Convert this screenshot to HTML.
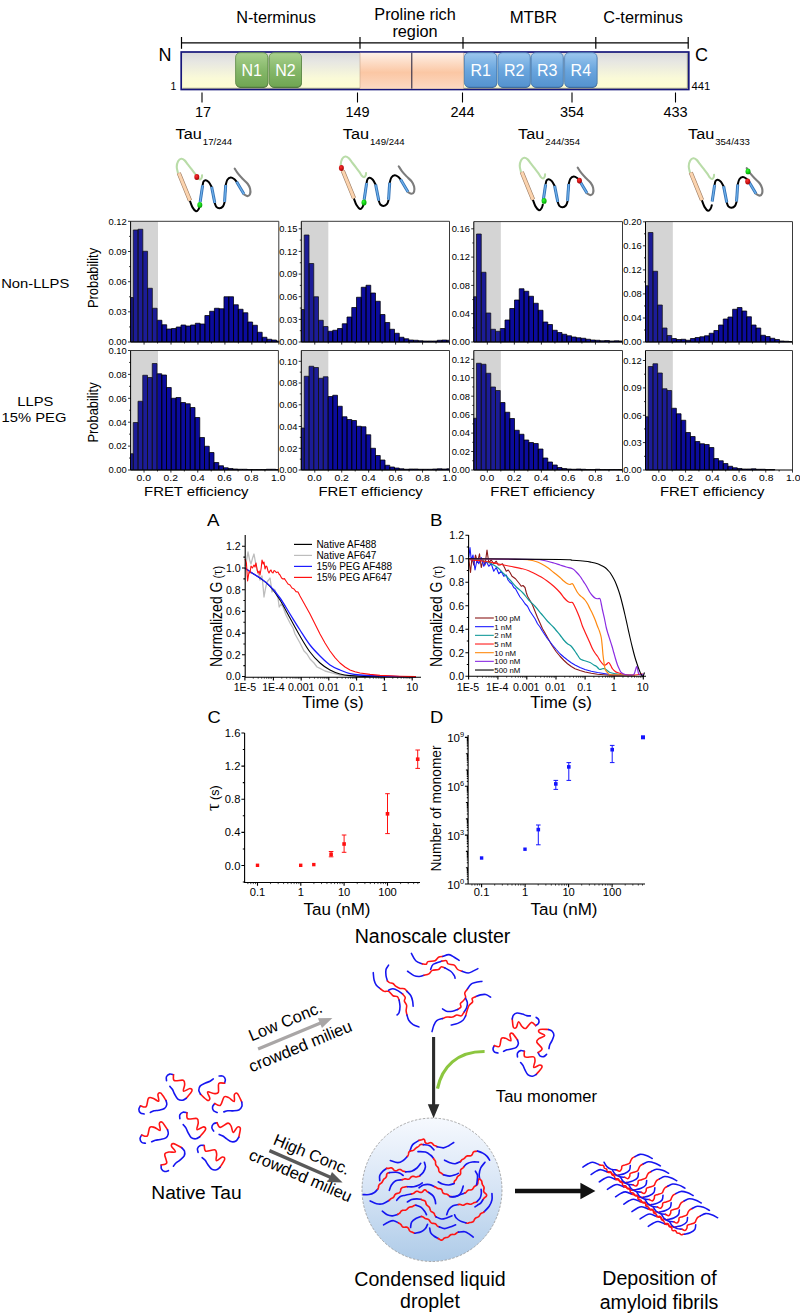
<!DOCTYPE html>
<html><head><meta charset="utf-8"><title>Figure</title>
<style>
html,body{margin:0;padding:0;background:#fff;}
body{width:800px;height:1315px;overflow:hidden;font-family:"Liberation Sans", sans-serif;}
svg{display:block;font-family:"Liberation Sans", sans-serif;}
</style></head><body>
<svg width="800" height="1315" viewBox="0 0 800 1315">
<rect width="800" height="1315" fill="#fff"/>
<defs>
<linearGradient id="gBar" x1="0" y1="0" x2="0" y2="1">
<stop offset="0" stop-color="#d9d9d9"/><stop offset="0.25" stop-color="#e6e6e2"/><stop offset="0.7" stop-color="#fafad8"/><stop offset="1" stop-color="#fdfdd0"/>
</linearGradient>
<linearGradient id="gPro" x1="0" y1="0" x2="0" y2="1">
<stop offset="0" stop-color="#fef0e6"/><stop offset="0.55" stop-color="#fbc7a4"/><stop offset="1" stop-color="#fcd9c2"/>
</linearGradient>
<linearGradient id="gN" x1="0" y1="0" x2="0" y2="1">
<stop offset="0" stop-color="#a9d18e"/><stop offset="0.5" stop-color="#86b86a"/><stop offset="1" stop-color="#6fa552"/>
</linearGradient>
<linearGradient id="gR" x1="0" y1="0" x2="0" y2="1">
<stop offset="0" stop-color="#9cc7ee"/><stop offset="0.5" stop-color="#6aa6de"/><stop offset="1" stop-color="#5492cf"/>
</linearGradient>
<radialGradient id="gRed" cx="0.4" cy="0.35" r="0.7"><stop offset="0" stop-color="#ff3030"/><stop offset="1" stop-color="#a00000"/></radialGradient>
<radialGradient id="gGrn" cx="0.4" cy="0.35" r="0.7"><stop offset="0" stop-color="#30ff30"/><stop offset="1" stop-color="#009a00"/></radialGradient>
</defs>
<text transform="translate(276 23)" font-size="16.3" text-anchor="middle" fill="#000">N-terminus</text>
<text transform="translate(415 20)" font-size="16.3" text-anchor="middle" fill="#000">Proline rich</text>
<text transform="translate(415 37.4)" font-size="16.3" text-anchor="middle" fill="#000">region</text>
<text transform="translate(533.4 23)" font-size="16.8" text-anchor="middle" fill="#000">MTBR</text>
<text transform="translate(643 23)" font-size="16.3" text-anchor="middle" fill="#000">C-terminus</text>
<path d="M181.5 42.8H688.2" stroke="#000" stroke-width="1.2" fill="none"/>
<path d="M181.5 37V48.8" stroke="#000" stroke-width="1.2"/>
<path d="M360 37V48.8" stroke="#000" stroke-width="1.2"/>
<path d="M463 37V48.8" stroke="#000" stroke-width="1.2"/>
<path d="M595.8 37V48.8" stroke="#000" stroke-width="1.2"/>
<path d="M688.2 37V48.8" stroke="#000" stroke-width="1.2"/>
<rect x="181.2" y="52" width="507.6" height="37.5" fill="url(#gBar)" stroke="#16167a" stroke-width="1.7"/>
<path d="M182.5 88.3H687.4V53.2" stroke="#6e6e6e" stroke-width="0.9" fill="none" opacity="0.8"/>
<rect x="360" y="52.8" width="103.5" height="35.9" fill="url(#gPro)"/>
<path d="M411.8 52.8V88.7" stroke="#1a1a3a" stroke-width="1"/>
<path d="M360 52.8V88.7M463.6 52.8V88.7" stroke="#c8a58c" stroke-width="0.6"/>
<rect x="235.9" y="53.6" width="32.3" height="34.3" rx="4.5" fill="#4c6e3a"/>
<rect x="235.6" y="52.7" width="32.3" height="34.3" rx="4.5" fill="url(#gN)" stroke="#5e8a48" stroke-width="0.8"/>
<text transform="translate(251.75 76)" font-size="16" text-anchor="middle" fill="#fff">N1</text>
<rect x="269.5" y="53.6" width="32.3" height="34.3" rx="4.5" fill="#4c6e3a"/>
<rect x="269.2" y="52.7" width="32.3" height="34.3" rx="4.5" fill="url(#gN)" stroke="#5e8a48" stroke-width="0.8"/>
<text transform="translate(285.35 76)" font-size="16" text-anchor="middle" fill="#fff">N2</text>
<rect x="464.7" y="53.6" width="32.4" height="34.3" rx="4.5" fill="#3b638f"/>
<rect x="464.4" y="52.7" width="32.4" height="34.3" rx="4.5" fill="url(#gR)" stroke="#4a7db5" stroke-width="0.8"/>
<text transform="translate(480.6 76)" font-size="16" text-anchor="middle" fill="#fff">R1</text>
<rect x="498.3" y="53.6" width="32.2" height="34.3" rx="4.5" fill="#3b638f"/>
<rect x="498" y="52.7" width="32.2" height="34.3" rx="4.5" fill="url(#gR)" stroke="#4a7db5" stroke-width="0.8"/>
<text transform="translate(514.1 76)" font-size="16" text-anchor="middle" fill="#fff">R2</text>
<rect x="531.5" y="53.6" width="32" height="34.3" rx="4.5" fill="#3b638f"/>
<rect x="531.2" y="52.7" width="32" height="34.3" rx="4.5" fill="url(#gR)" stroke="#4a7db5" stroke-width="0.8"/>
<text transform="translate(547.2 76)" font-size="16" text-anchor="middle" fill="#fff">R3</text>
<rect x="564.9" y="53.6" width="32.4" height="34.3" rx="4.5" fill="#3b638f"/>
<rect x="564.6" y="52.7" width="32.4" height="34.3" rx="4.5" fill="url(#gR)" stroke="#4a7db5" stroke-width="0.8"/>
<text transform="translate(580.8 76)" font-size="16" text-anchor="middle" fill="#fff">R4</text>
<text transform="translate(158.5 61.3)" font-size="18" text-anchor="start" fill="#000">N</text>
<text transform="translate(695 61.3)" font-size="18" text-anchor="start" fill="#000">C</text>
<text transform="translate(170.5 90)" font-size="10.5" text-anchor="start" fill="#000">1</text>
<text transform="translate(691.5 90.4)" font-size="11.3" text-anchor="start" fill="#000">441</text>
<path d="M202 92.5V102.5" stroke="#000" stroke-width="1.1"/>
<text transform="translate(203 116.8)" font-size="14.5" text-anchor="middle" fill="#000">17</text>
<path d="M357.5 92.5V102.5" stroke="#000" stroke-width="1.1"/>
<text transform="translate(357.5 116.8)" font-size="14.5" text-anchor="middle" fill="#000">149</text>
<path d="M462.5 92.5V102.5" stroke="#000" stroke-width="1.1"/>
<text transform="translate(462.5 116.8)" font-size="14.5" text-anchor="middle" fill="#000">244</text>
<path d="M572 92.5V102.5" stroke="#000" stroke-width="1.1"/>
<text transform="translate(572 116.8)" font-size="14.5" text-anchor="middle" fill="#000">354</text>
<path d="M675.5 92.5V102.5" stroke="#000" stroke-width="1.1"/>
<text transform="translate(675.5 116.8)" font-size="14.5" text-anchor="middle" fill="#000">433</text>
<text transform="translate(175.6 139.3) scale(1.1 1)" font-size="14.8" text-anchor="start" fill="#000">Tau</text>
<text transform="translate(202.8 144.5) scale(0.98 1)" font-size="9.8" text-anchor="start" fill="#000">17/244</text>
<text transform="translate(342.8 139.3) scale(1.1 1)" font-size="14.8" text-anchor="start" fill="#000">Tau</text>
<text transform="translate(370 144.5) scale(0.98 1)" font-size="9.8" text-anchor="start" fill="#000">149/244</text>
<text transform="translate(518.1 139.3) scale(1.1 1)" font-size="14.8" text-anchor="start" fill="#000">Tau</text>
<text transform="translate(545.3 144.5) scale(0.98 1)" font-size="9.8" text-anchor="start" fill="#000">244/354</text>
<text transform="translate(688 139.3) scale(1.1 1)" font-size="14.8" text-anchor="start" fill="#000">Tau</text>
<text transform="translate(715.2 144.5) scale(0.98 1)" font-size="9.8" text-anchor="start" fill="#000">354/433</text>
<g transform="translate(0 0)"><path d="M177.88 172.5C177.69 171.56 176.71 168.75 176.75 166.88C176.79 165 177.35 162.6 178.1 161.25C178.85 159.9 180.16 158.93 181.25 158.78C182.34 158.62 183.5 159.38 184.62 160.35C185.75 161.32 186.78 163.07 188 164.62C189.22 166.18 190.72 168.09 191.94 169.69C193.16 171.28 194.32 172.78 195.31 174.19C196.31 175.59 197.09 177.24 197.9 178.12C198.71 179.01 199.51 179.57 200.15 179.47C200.79 179.38 201.41 178.26 201.72 177.56C202.04 176.87 202.01 175.69 202.06 175.31" fill="none" stroke="#b9dca8" stroke-width="2.1" stroke-linecap="round"/><path d="M190.03 201.19C190.44 202.22 191.49 205.69 192.5 207.38C193.51 209.06 195.07 211.03 196.1 211.31C197.13 211.59 198.07 210 198.69 209.06C199.31 208.12 199.62 206.25 199.81 205.69" fill="none" stroke="#000" stroke-width="2" stroke-linecap="round"/><path d="M202.62 185.1C202.78 184.5 203 182.32 203.53 181.5C204.05 180.68 204.89 180.06 205.78 180.15C206.66 180.24 207.84 180.94 208.81 182.06C209.79 183.19 211.16 186.09 211.62 186.9" fill="none" stroke="#000" stroke-width="2" stroke-linecap="round"/><path d="M214.78 203.1C215.04 203.72 215.56 205.95 216.35 206.81C217.14 207.68 218.38 208.37 219.5 208.28C220.62 208.18 222.26 207.24 223.1 206.25C223.94 205.26 224.32 202.97 224.56 202.31" fill="none" stroke="#000" stroke-width="2" stroke-linecap="round"/><path d="M225.69 185.1C225.97 184.22 226.53 181.07 227.38 179.81C228.22 178.56 229.62 177.69 230.75 177.56C231.88 177.43 233.15 178.33 234.12 179.03C235.1 179.72 236.19 181.28 236.6 181.72" fill="none" stroke="#000" stroke-width="2" stroke-linecap="round"/><path d="M243.69 194.1C244.34 194.44 246.56 196.16 247.62 196.12C248.69 196.09 249.69 195.09 250.1 193.88C250.51 192.66 250.51 190.5 250.1 188.81C249.69 187.12 248.88 185.44 247.62 183.75C246.37 182.06 244.16 180.38 242.56 178.69C240.97 177 239.38 175.31 238.06 173.62C236.75 171.94 235.25 169.41 234.69 168.56" fill="none" stroke="#7c7c7c" stroke-width="2.1" stroke-linecap="round"/><path d="M178.78 173.06L190.03 200.62" stroke="#9b7a60" stroke-width="4.2" fill="none"/><path d="M178.78 173.06L190.03 200.62" stroke="#fbd3ae" stroke-width="3" fill="none"/><path d="M200.15 201.97L202.62 185.44" stroke="#2f6fb5" stroke-width="3" fill="none"/><path d="M200.15 201.97L202.62 185.44" stroke="#6fb0ea" stroke-width="1.3" fill="none"/><path d="M211.62 186.9L214.78 202.88" stroke="#2f6fb5" stroke-width="3" fill="none"/><path d="M211.62 186.9L214.78 202.88" stroke="#6fb0ea" stroke-width="1.3" fill="none"/><path d="M224.56 201.97L225.69 185.1" stroke="#2f6fb5" stroke-width="3" fill="none"/><path d="M224.56 201.97L225.69 185.1" stroke="#6fb0ea" stroke-width="1.3" fill="none"/><path d="M236.6 181.72L243.91 194.1" stroke="#2f6fb5" stroke-width="3" fill="none"/><path d="M236.6 181.72L243.91 194.1" stroke="#6fb0ea" stroke-width="1.3" fill="none"/></g>
<g transform="translate(164 -2.3)"><path d="M177.88 172.5C177.69 171.56 176.71 168.75 176.75 166.88C176.79 165 177.35 162.6 178.1 161.25C178.85 159.9 180.16 158.93 181.25 158.78C182.34 158.62 183.5 159.38 184.62 160.35C185.75 161.32 186.78 163.07 188 164.62C189.22 166.18 190.72 168.09 191.94 169.69C193.16 171.28 194.32 172.78 195.31 174.19C196.31 175.59 197.09 177.24 197.9 178.12C198.71 179.01 199.51 179.57 200.15 179.47C200.79 179.38 201.41 178.26 201.72 177.56C202.04 176.87 202.01 175.69 202.06 175.31" fill="none" stroke="#b9dca8" stroke-width="2.1" stroke-linecap="round"/><path d="M190.03 201.19C190.44 202.22 191.49 205.69 192.5 207.38C193.51 209.06 195.07 211.03 196.1 211.31C197.13 211.59 198.07 210 198.69 209.06C199.31 208.12 199.62 206.25 199.81 205.69" fill="none" stroke="#000" stroke-width="2" stroke-linecap="round"/><path d="M202.62 185.1C202.78 184.5 203 182.32 203.53 181.5C204.05 180.68 204.89 180.06 205.78 180.15C206.66 180.24 207.84 180.94 208.81 182.06C209.79 183.19 211.16 186.09 211.62 186.9" fill="none" stroke="#000" stroke-width="2" stroke-linecap="round"/><path d="M214.78 203.1C215.04 203.72 215.56 205.95 216.35 206.81C217.14 207.68 218.38 208.37 219.5 208.28C220.62 208.18 222.26 207.24 223.1 206.25C223.94 205.26 224.32 202.97 224.56 202.31" fill="none" stroke="#000" stroke-width="2" stroke-linecap="round"/><path d="M225.69 185.1C225.97 184.22 226.53 181.07 227.38 179.81C228.22 178.56 229.62 177.69 230.75 177.56C231.88 177.43 233.15 178.33 234.12 179.03C235.1 179.72 236.19 181.28 236.6 181.72" fill="none" stroke="#000" stroke-width="2" stroke-linecap="round"/><path d="M243.69 194.1C244.34 194.44 246.56 196.16 247.62 196.12C248.69 196.09 249.69 195.09 250.1 193.88C250.51 192.66 250.51 190.5 250.1 188.81C249.69 187.12 248.88 185.44 247.62 183.75C246.37 182.06 244.16 180.38 242.56 178.69C240.97 177 239.38 175.31 238.06 173.62C236.75 171.94 235.25 169.41 234.69 168.56" fill="none" stroke="#7c7c7c" stroke-width="2.1" stroke-linecap="round"/><path d="M178.78 173.06L190.03 200.62" stroke="#9b7a60" stroke-width="4.2" fill="none"/><path d="M178.78 173.06L190.03 200.62" stroke="#fbd3ae" stroke-width="3" fill="none"/><path d="M200.15 201.97L202.62 185.44" stroke="#2f6fb5" stroke-width="3" fill="none"/><path d="M200.15 201.97L202.62 185.44" stroke="#6fb0ea" stroke-width="1.3" fill="none"/><path d="M211.62 186.9L214.78 202.88" stroke="#2f6fb5" stroke-width="3" fill="none"/><path d="M211.62 186.9L214.78 202.88" stroke="#6fb0ea" stroke-width="1.3" fill="none"/><path d="M224.56 201.97L225.69 185.1" stroke="#2f6fb5" stroke-width="3" fill="none"/><path d="M224.56 201.97L225.69 185.1" stroke="#6fb0ea" stroke-width="1.3" fill="none"/><path d="M236.6 181.72L243.91 194.1" stroke="#2f6fb5" stroke-width="3" fill="none"/><path d="M236.6 181.72L243.91 194.1" stroke="#6fb0ea" stroke-width="1.3" fill="none"/></g>
<g transform="translate(343 -1)"><path d="M177.88 172.5C177.69 171.56 176.71 168.75 176.75 166.88C176.79 165 177.35 162.6 178.1 161.25C178.85 159.9 180.16 158.93 181.25 158.78C182.34 158.62 183.5 159.38 184.62 160.35C185.75 161.32 186.78 163.07 188 164.62C189.22 166.18 190.72 168.09 191.94 169.69C193.16 171.28 194.32 172.78 195.31 174.19C196.31 175.59 197.09 177.24 197.9 178.12C198.71 179.01 199.51 179.57 200.15 179.47C200.79 179.38 201.41 178.26 201.72 177.56C202.04 176.87 202.01 175.69 202.06 175.31" fill="none" stroke="#b9dca8" stroke-width="2.1" stroke-linecap="round"/><path d="M190.03 201.19C190.44 202.22 191.49 205.69 192.5 207.38C193.51 209.06 195.07 211.03 196.1 211.31C197.13 211.59 198.07 210 198.69 209.06C199.31 208.12 199.62 206.25 199.81 205.69" fill="none" stroke="#000" stroke-width="2" stroke-linecap="round"/><path d="M202.62 185.1C202.78 184.5 203 182.32 203.53 181.5C204.05 180.68 204.89 180.06 205.78 180.15C206.66 180.24 207.84 180.94 208.81 182.06C209.79 183.19 211.16 186.09 211.62 186.9" fill="none" stroke="#000" stroke-width="2" stroke-linecap="round"/><path d="M214.78 203.1C215.04 203.72 215.56 205.95 216.35 206.81C217.14 207.68 218.38 208.37 219.5 208.28C220.62 208.18 222.26 207.24 223.1 206.25C223.94 205.26 224.32 202.97 224.56 202.31" fill="none" stroke="#000" stroke-width="2" stroke-linecap="round"/><path d="M225.69 185.1C225.97 184.22 226.53 181.07 227.38 179.81C228.22 178.56 229.62 177.69 230.75 177.56C231.88 177.43 233.15 178.33 234.12 179.03C235.1 179.72 236.19 181.28 236.6 181.72" fill="none" stroke="#000" stroke-width="2" stroke-linecap="round"/><path d="M243.69 194.1C244.34 194.44 246.56 196.16 247.62 196.12C248.69 196.09 249.69 195.09 250.1 193.88C250.51 192.66 250.51 190.5 250.1 188.81C249.69 187.12 248.88 185.44 247.62 183.75C246.37 182.06 244.16 180.38 242.56 178.69C240.97 177 239.38 175.31 238.06 173.62C236.75 171.94 235.25 169.41 234.69 168.56" fill="none" stroke="#7c7c7c" stroke-width="2.1" stroke-linecap="round"/><path d="M178.78 173.06L190.03 200.62" stroke="#9b7a60" stroke-width="4.2" fill="none"/><path d="M178.78 173.06L190.03 200.62" stroke="#fbd3ae" stroke-width="3" fill="none"/><path d="M200.15 201.97L202.62 185.44" stroke="#2f6fb5" stroke-width="3" fill="none"/><path d="M200.15 201.97L202.62 185.44" stroke="#6fb0ea" stroke-width="1.3" fill="none"/><path d="M211.62 186.9L214.78 202.88" stroke="#2f6fb5" stroke-width="3" fill="none"/><path d="M211.62 186.9L214.78 202.88" stroke="#6fb0ea" stroke-width="1.3" fill="none"/><path d="M224.56 201.97L225.69 185.1" stroke="#2f6fb5" stroke-width="3" fill="none"/><path d="M224.56 201.97L225.69 185.1" stroke="#6fb0ea" stroke-width="1.3" fill="none"/><path d="M236.6 181.72L243.91 194.1" stroke="#2f6fb5" stroke-width="3" fill="none"/><path d="M236.6 181.72L243.91 194.1" stroke="#6fb0ea" stroke-width="1.3" fill="none"/></g>
<g transform="translate(512 -0.5)"><path d="M177.88 172.5C177.69 171.56 176.71 168.75 176.75 166.88C176.79 165 177.35 162.6 178.1 161.25C178.85 159.9 180.16 158.93 181.25 158.78C182.34 158.62 183.5 159.38 184.62 160.35C185.75 161.32 186.78 163.07 188 164.62C189.22 166.18 190.72 168.09 191.94 169.69C193.16 171.28 194.32 172.78 195.31 174.19C196.31 175.59 197.09 177.24 197.9 178.12C198.71 179.01 199.51 179.57 200.15 179.47C200.79 179.38 201.41 178.26 201.72 177.56C202.04 176.87 202.01 175.69 202.06 175.31" fill="none" stroke="#b9dca8" stroke-width="2.1" stroke-linecap="round"/><path d="M190.03 201.19C190.44 202.22 191.49 205.69 192.5 207.38C193.51 209.06 195.07 211.03 196.1 211.31C197.13 211.59 198.07 210 198.69 209.06C199.31 208.12 199.62 206.25 199.81 205.69" fill="none" stroke="#000" stroke-width="2" stroke-linecap="round"/><path d="M202.62 185.1C202.78 184.5 203 182.32 203.53 181.5C204.05 180.68 204.89 180.06 205.78 180.15C206.66 180.24 207.84 180.94 208.81 182.06C209.79 183.19 211.16 186.09 211.62 186.9" fill="none" stroke="#000" stroke-width="2" stroke-linecap="round"/><path d="M214.78 203.1C215.04 203.72 215.56 205.95 216.35 206.81C217.14 207.68 218.38 208.37 219.5 208.28C220.62 208.18 222.26 207.24 223.1 206.25C223.94 205.26 224.32 202.97 224.56 202.31" fill="none" stroke="#000" stroke-width="2" stroke-linecap="round"/><path d="M225.69 185.1C225.97 184.22 226.53 181.07 227.38 179.81C228.22 178.56 229.62 177.69 230.75 177.56C231.88 177.43 233.15 178.33 234.12 179.03C235.1 179.72 236.19 181.28 236.6 181.72" fill="none" stroke="#000" stroke-width="2" stroke-linecap="round"/><path d="M243.69 194.1C244.34 194.44 246.56 196.16 247.62 196.12C248.69 196.09 249.69 195.09 250.1 193.88C250.51 192.66 250.51 190.5 250.1 188.81C249.69 187.12 248.88 185.44 247.62 183.75C246.37 182.06 244.16 180.38 242.56 178.69C240.97 177 239.38 175.31 238.06 173.62C236.75 171.94 235.25 169.41 234.69 168.56" fill="none" stroke="#7c7c7c" stroke-width="2.1" stroke-linecap="round"/><path d="M178.78 173.06L190.03 200.62" stroke="#9b7a60" stroke-width="4.2" fill="none"/><path d="M178.78 173.06L190.03 200.62" stroke="#fbd3ae" stroke-width="3" fill="none"/><path d="M200.15 201.97L202.62 185.44" stroke="#2f6fb5" stroke-width="3" fill="none"/><path d="M200.15 201.97L202.62 185.44" stroke="#6fb0ea" stroke-width="1.3" fill="none"/><path d="M211.62 186.9L214.78 202.88" stroke="#2f6fb5" stroke-width="3" fill="none"/><path d="M211.62 186.9L214.78 202.88" stroke="#6fb0ea" stroke-width="1.3" fill="none"/><path d="M224.56 201.97L225.69 185.1" stroke="#2f6fb5" stroke-width="3" fill="none"/><path d="M224.56 201.97L225.69 185.1" stroke="#6fb0ea" stroke-width="1.3" fill="none"/><path d="M236.6 181.72L243.91 194.1" stroke="#2f6fb5" stroke-width="3" fill="none"/><path d="M236.6 181.72L243.91 194.1" stroke="#6fb0ea" stroke-width="1.3" fill="none"/></g>
<ellipse cx="196.8" cy="177" rx="2.5" ry="2.9" fill="url(#gRed)"/>
<ellipse cx="199.8" cy="204.9" rx="2.5" ry="2.9" fill="url(#gGrn)"/>
<ellipse cx="341.4" cy="168" rx="2.5" ry="2.9" fill="url(#gRed)"/>
<ellipse cx="364" cy="202.5" rx="2.5" ry="2.9" fill="url(#gGrn)"/>
<ellipse cx="579.4" cy="180.6" rx="2.5" ry="2.9" fill="url(#gRed)"/>
<ellipse cx="544.1" cy="200.9" rx="2.5" ry="2.9" fill="url(#gGrn)"/>
<ellipse cx="747.7" cy="181.5" rx="2.5" ry="2.9" fill="url(#gRed)"/>
<ellipse cx="748" cy="171.4" rx="2.5" ry="2.9" fill="url(#gGrn)"/>
<rect x="130.6" y="221.3" width="27.4" height="120.7" fill="#e3e3e3"/>
<path d="M130.75 342V297.5H133.25V342ZM133.25 342V230H138.03V342ZM138.03 342V229.25H142.8V342ZM142.8 342V251.25H147.57V342ZM147.57 342V288.25H152.35V342ZM152.35 342V308.25H157.12V342ZM157.12 342V320.25H161.9V342ZM161.9 342V324.75H166.68V342ZM166.68 342V329H171.45V342ZM171.45 342V328.5H176.22V342ZM176.22 342V327H181V342ZM181 342V325H185.78V342ZM185.78 342V326H190.55V342ZM190.55 342V325H195.32V342ZM195.32 342V323.25H200.1V342ZM200.1 342V324H204.88V342ZM204.88 342V315.5H209.65V342ZM209.65 342V311.25H214.43V342ZM214.43 342V308.25H219.2V342ZM219.2 342V308.75H223.98V342ZM223.98 342V296.75H228.75V342ZM228.75 342V296.75H233.53V342ZM233.53 342V304.75H238.3V342ZM238.3 342V309.25H243.07V342ZM243.07 342V312.75H247.85V342ZM247.85 342V322H252.62V342ZM252.62 342V325.25H257.4V342ZM257.4 342V332.25H262.18V342ZM262.18 342V337.25H266.95V342ZM266.95 342V339.25H271.73V342ZM271.73 342V340H276.5V342ZM276.5 342V341H278.75V342Z" fill="#0b0b9c" stroke="#000" stroke-width="0.75" stroke-linejoin="miter"/>
<rect x="130.6" y="221.3" width="27.4" height="120.7" fill="#808080" opacity="0.15"/>
<path d="M130.6 221.3H278.8V342" fill="none" stroke="#3a3a3a" stroke-width="1"/>
<path d="M130.6 221.3V342H278.8" fill="none" stroke="#000" stroke-width="1"/>
<text transform="translate(126.7 224.6)" font-size="9.4" text-anchor="end" fill="#000">0.12</text>
<text transform="translate(126.7 254.8)" font-size="9.4" text-anchor="end" fill="#000">0.09</text>
<text transform="translate(126.7 285)" font-size="9.4" text-anchor="end" fill="#000">0.06</text>
<text transform="translate(126.7 315.1)" font-size="9.4" text-anchor="end" fill="#000">0.03</text>
<text transform="translate(126.7 345.3)" font-size="9.4" text-anchor="end" fill="#000">0.00</text>
<path d="M128 221.3H130.6M128 251.5H130.6M128 281.7H130.6M128 311.8H130.6M128 342H130.6M129.1 236.4H130.6M129.1 266.6H130.6M129.1 296.75H130.6M129.1 326.9H130.6M144.07 342V344.6M171.02 342V344.6M197.96 342V344.6M224.91 342V344.6M251.85 342V344.6M278.8 342V344.6M157.55 342V343.5M184.49 342V343.5M211.44 342V343.5M238.38 342V343.5M265.33 342V343.5" stroke="#000" stroke-width="0.8" fill="none"/>
<rect x="301.3" y="221.3" width="27" height="120.7" fill="#e3e3e3"/>
<path d="M301.25 342V309.5H304.25V342ZM304.25 342V235H309V342ZM309 342V263.5H313.75V342ZM313.75 342V296.75H318.5V342ZM318.5 342V320.25H323.25V342ZM323.25 342V326.5H328V342ZM328 342V331.25H332.75V342ZM332.75 342V330.25H337.5V342ZM337.5 342V328.5H342.25V342ZM342.25 342V323.75H347V342ZM347 342V317H351.75V342ZM351.75 342V307.5H356.5V342ZM356.5 342V297.25H361.25V342ZM361.25 342V287.25H366V342ZM366 342V285.25H370.75V342ZM370.75 342V293H375.5V342ZM375.5 342V301.25H380.25V342ZM380.25 342V314.5H385V342ZM385 342V322.5H389.75V342ZM389.75 342V329.25H394.5V342ZM394.5 342V333.25H399.25V342ZM399.25 342V337.25H404V342ZM404 342V338.75H408.75V342ZM408.75 342V340H413.5V342ZM413.5 342V340.25H418.25V342ZM418.25 342V340.75H423V342ZM423 342V341H427.75V342ZM427.75 342V341H432.5V342ZM432.5 342V341H437.25V342ZM437.25 342V340.25H442V342ZM442 342V340H446.75V342ZM446.75 342V340.25H449.5V342Z" fill="#0b0b9c" stroke="#000" stroke-width="0.75" stroke-linejoin="miter"/>
<rect x="301.3" y="221.3" width="27" height="120.7" fill="#808080" opacity="0.15"/>
<path d="M301.3 221.3H449.5V342" fill="none" stroke="#3a3a3a" stroke-width="1"/>
<path d="M301.3 221.3V342H449.5" fill="none" stroke="#000" stroke-width="1"/>
<text transform="translate(297.4 232.1)" font-size="9.4" text-anchor="end" fill="#000">0.15</text>
<text transform="translate(297.4 254.7)" font-size="9.4" text-anchor="end" fill="#000">0.12</text>
<text transform="translate(297.4 277.4)" font-size="9.4" text-anchor="end" fill="#000">0.09</text>
<text transform="translate(297.4 300)" font-size="9.4" text-anchor="end" fill="#000">0.06</text>
<text transform="translate(297.4 322.7)" font-size="9.4" text-anchor="end" fill="#000">0.03</text>
<text transform="translate(297.4 345.3)" font-size="9.4" text-anchor="end" fill="#000">0.00</text>
<path d="M298.7 228.8H301.3M298.7 251.4H301.3M298.7 274.1H301.3M298.7 296.7H301.3M298.7 319.4H301.3M298.7 342H301.3M299.8 240.1H301.3M299.8 262.75H301.3M299.8 285.4H301.3M299.8 308.05H301.3M299.8 330.7H301.3M314.77 342V344.6M341.72 342V344.6M368.66 342V344.6M395.61 342V344.6M422.55 342V344.6M449.5 342V344.6M328.25 342V343.5M355.19 342V343.5M382.14 342V343.5M409.08 342V343.5M436.03 342V343.5" stroke="#000" stroke-width="0.8" fill="none"/>
<rect x="473.8" y="221.6" width="27" height="120.4" fill="#e3e3e3"/>
<path d="M473.75 342V296.75H476.5V342ZM476.5 342V234H481.25V342ZM481.25 342V272.25H486V342ZM486 342V313H490.75V342ZM490.75 342V329.25H495.5V342ZM495.5 342V331.25H500.25V342ZM500.25 342V328.5H505V342ZM505 342V320H509.75V342ZM509.75 342V308.5H514.5V342ZM514.5 342V300H519.25V342ZM519.25 342V288.75H524V342ZM524 342V291.25H528.75V342ZM528.75 342V296.25H533.5V342ZM533.5 342V303.25H538.25V342ZM538.25 342V310.25H543V342ZM543 342V322H547.75V342ZM547.75 342V324.5H552.5V342ZM552.5 342V330.25H557.25V342ZM557.25 342V332.5H562V342ZM562 342V334.25H566.75V342ZM566.75 342V335.75H571.5V342ZM571.5 342V337H576.25V342ZM576.25 342V337.75H581V342ZM581 342V338.25H585.75V342ZM585.75 342V339.25H590.5V342ZM590.5 342V340H595.25V342ZM595.25 342V340.25H600V342ZM600 342V340.75H604.75V342ZM604.75 342V340.5H609.5V342ZM609.5 342V341H614.25V342ZM614.25 342V340.75H619V342ZM619 342V341H622.5V342Z" fill="#0b0b9c" stroke="#000" stroke-width="0.75" stroke-linejoin="miter"/>
<rect x="473.8" y="221.6" width="27" height="120.4" fill="#808080" opacity="0.15"/>
<path d="M473.8 221.6H622.5V342" fill="none" stroke="#3a3a3a" stroke-width="1"/>
<path d="M473.8 221.6V342H622.5" fill="none" stroke="#000" stroke-width="1"/>
<text transform="translate(469.9 232.1)" font-size="9.4" text-anchor="end" fill="#000">0.16</text>
<text transform="translate(469.9 260.4)" font-size="9.4" text-anchor="end" fill="#000">0.12</text>
<text transform="translate(469.9 288.7)" font-size="9.4" text-anchor="end" fill="#000">0.08</text>
<text transform="translate(469.9 317)" font-size="9.4" text-anchor="end" fill="#000">0.04</text>
<text transform="translate(469.9 345.3)" font-size="9.4" text-anchor="end" fill="#000">0.00</text>
<path d="M471.2 228.8H473.8M471.2 257.1H473.8M471.2 285.4H473.8M471.2 313.7H473.8M471.2 342H473.8M472.3 242.95H473.8M472.3 271.25H473.8M472.3 299.55H473.8M472.3 327.85H473.8M487.32 342V344.6M514.35 342V344.6M541.39 342V344.6M568.43 342V344.6M595.46 342V344.6M622.5 342V344.6M500.84 342V343.5M527.87 342V343.5M554.91 342V343.5M581.95 342V343.5M608.98 342V343.5" stroke="#000" stroke-width="0.8" fill="none"/>
<rect x="645.5" y="221.6" width="27.3" height="120.4" fill="#e3e3e3"/>
<path d="M645.5 342V285.75H648.25V342ZM648.25 342V232.5H652.94V342ZM652.94 342V271.25H657.62V342ZM657.62 342V305H662.31V342ZM662.31 342V328H667V342ZM667 342V335.5H671.69V342ZM671.69 342V338.5H676.38V342ZM676.38 342V339.5H681.06V342ZM681.06 342V339.25H685.75V342ZM685.75 342V340.25H690.44V342ZM690.44 342V338.5H695.12V342ZM695.12 342V337.5H699.81V342ZM699.81 342V336.75H704.5V342ZM704.5 342V335.75H709.19V342ZM709.19 342V333.25H713.88V342ZM713.88 342V330.5H718.56V342ZM718.56 342V325H723.25V342ZM723.25 342V319H727.94V342ZM727.94 342V317H732.62V342ZM732.62 342V309.25H737.31V342ZM737.31 342V307.5H742V342ZM742 342V311H746.69V342ZM746.69 342V316.75H751.38V342ZM751.38 342V325H756.06V342ZM756.06 342V328H760.75V342ZM760.75 342V335.25H765.44V342ZM765.44 342V336.5H770.12V342ZM770.12 342V338.25H774.81V342ZM774.81 342V339.5H779.5V342ZM779.5 342V341H784.19V342ZM784.19 342V341.25H788.88V342ZM788.88 342V341.5H792.5V342Z" fill="#0b0b9c" stroke="#000" stroke-width="0.75" stroke-linejoin="miter"/>
<rect x="645.5" y="221.6" width="27.3" height="120.4" fill="#808080" opacity="0.15"/>
<path d="M645.5 221.6H792.5V342" fill="none" stroke="#3a3a3a" stroke-width="1"/>
<path d="M645.5 221.6V342H792.5" fill="none" stroke="#000" stroke-width="1"/>
<text transform="translate(641.6 225.1)" font-size="9.4" text-anchor="end" fill="#000">0.20</text>
<text transform="translate(641.6 249.1)" font-size="9.4" text-anchor="end" fill="#000">0.16</text>
<text transform="translate(641.6 273.2)" font-size="9.4" text-anchor="end" fill="#000">0.12</text>
<text transform="translate(641.6 297.2)" font-size="9.4" text-anchor="end" fill="#000">0.08</text>
<text transform="translate(641.6 321.3)" font-size="9.4" text-anchor="end" fill="#000">0.04</text>
<text transform="translate(641.6 345.3)" font-size="9.4" text-anchor="end" fill="#000">0.00</text>
<path d="M642.9 221.8H645.5M642.9 245.8H645.5M642.9 269.9H645.5M642.9 293.9H645.5M642.9 318H645.5M642.9 342H645.5M644 233.8H645.5M644 257.85H645.5M644 281.9H645.5M644 305.95H645.5M644 330H645.5M658.86 342V344.6M685.59 342V344.6M712.32 342V344.6M739.05 342V344.6M765.77 342V344.6M792.5 342V344.6M672.23 342V343.5M698.95 342V343.5M725.68 342V343.5M752.41 342V343.5M779.14 342V343.5" stroke="#000" stroke-width="0.8" fill="none"/>
<rect x="130.6" y="350.5" width="27.4" height="119.5" fill="#e3e3e3"/>
<path d="M130.5 470V453.75H133.25V470ZM133.25 470V422.5H138V470ZM138 470V401.25H142.75V470ZM142.75 470V375.25H147.5V470ZM147.5 470V377.5H152.25V470ZM152.25 470V363.5H157V470ZM157 470V373.75H161.75V470ZM161.75 470V375H166.5V470ZM166.5 470V387.5H171.25V470ZM171.25 470V398.25H176V470ZM176 470V397.5H180.75V470ZM180.75 470V402.5H185.5V470ZM185.5 470V403.75H190.25V470ZM190.25 470V407.5H195V470ZM195 470V417.5H199.75V470ZM199.75 470V437.5H204.5V470ZM204.5 470V446.25H209.25V470ZM209.25 470V452.5H214V470ZM214 470V462.5H218.75V470ZM218.75 470V465.75H223.5V470ZM223.5 470V467.75H228.25V470ZM228.25 470V468.5H233V470ZM233 470V469H237.75V470ZM237.75 470V469.25H242.5V470ZM242.5 470V469.25H247.25V470ZM247.25 470V469.5H252V470ZM252 470V469.5H256.75V470ZM256.75 470V469.5H261.5V470ZM261.5 470V469.5H266.25V470ZM266.25 470V469.25H271V470ZM271 470V469.25H275.75V470ZM275.75 470V469.5H278.25V470Z" fill="#0b0b9c" stroke="#000" stroke-width="0.75" stroke-linejoin="miter"/>
<rect x="130.6" y="350.5" width="27.4" height="119.5" fill="#808080" opacity="0.15"/>
<path d="M130.6 350.5H278.4V470" fill="none" stroke="#3a3a3a" stroke-width="1"/>
<path d="M130.6 350.5V470H278.4" fill="none" stroke="#000" stroke-width="1"/>
<text transform="translate(126.7 353.8)" font-size="9.4" text-anchor="end" fill="#000">0.10</text>
<text transform="translate(126.7 377.7)" font-size="9.4" text-anchor="end" fill="#000">0.08</text>
<text transform="translate(126.7 401.6)" font-size="9.4" text-anchor="end" fill="#000">0.06</text>
<text transform="translate(126.7 425.5)" font-size="9.4" text-anchor="end" fill="#000">0.04</text>
<text transform="translate(126.7 449.4)" font-size="9.4" text-anchor="end" fill="#000">0.02</text>
<text transform="translate(126.7 473.3)" font-size="9.4" text-anchor="end" fill="#000">0.00</text>
<path d="M128 350.5H130.6M128 374.4H130.6M128 398.3H130.6M128 422.2H130.6M128 446.1H130.6M128 470H130.6M129.1 362.45H130.6M129.1 386.35H130.6M129.1 410.25H130.6M129.1 434.15H130.6M129.1 458.05H130.6M144.04 470V472.6M170.91 470V472.6M197.78 470V472.6M224.65 470V472.6M251.53 470V472.6M278.4 470V472.6M157.47 470V471.5M184.35 470V471.5M211.22 470V471.5M238.09 470V471.5M264.96 470V471.5" stroke="#000" stroke-width="0.8" fill="none"/>
<text transform="translate(143.8 481) scale(1.08 1)" font-size="9.6" text-anchor="middle" fill="#000">0.0</text>
<text transform="translate(170.7 481) scale(1.08 1)" font-size="9.6" text-anchor="middle" fill="#000">0.2</text>
<text transform="translate(197.6 481) scale(1.08 1)" font-size="9.6" text-anchor="middle" fill="#000">0.4</text>
<text transform="translate(224.5 481) scale(1.08 1)" font-size="9.6" text-anchor="middle" fill="#000">0.6</text>
<text transform="translate(251.4 481) scale(1.08 1)" font-size="9.6" text-anchor="middle" fill="#000">0.8</text>
<text transform="translate(278.3 481) scale(1.08 1)" font-size="9.6" text-anchor="middle" fill="#000">1.0</text>
<text transform="translate(196.3 496.4) scale(1.2 1)" font-size="12.4" text-anchor="middle" fill="#000">FRET efficiency</text>
<rect x="301.3" y="350.5" width="27" height="119.5" fill="#e3e3e3"/>
<path d="M301.25 470V428H304.25V470ZM304.25 470V376.25H309V470ZM309 470V366.25H313.75V470ZM313.75 470V367.5H318.5V470ZM318.5 470V378.25H323.25V470ZM323.25 470V376.75H328V470ZM328 470V396.5H332.75V470ZM332.75 470V395.25H337.5V470ZM337.5 470V406.25H342.25V470ZM342.25 470V416.75H347V470ZM347 470V419.5H351.75V470ZM351.75 470V420.5H356.5V470ZM356.5 470V426.25H361.25V470ZM361.25 470V426.75H366V470ZM366 470V434.75H370.75V470ZM370.75 470V448.25H375.5V470ZM375.5 470V455.5H380.25V470ZM380.25 470V460H385V470ZM385 470V465.25H389.75V470ZM389.75 470V467H394.5V470ZM394.5 470V468H399.25V470ZM399.25 470V468.75H404V470ZM404 470V469.25H408.75V470ZM408.75 470V469H413.5V470ZM413.5 470V469H418.25V470ZM418.25 470V469.25H423V470ZM423 470V469.25H427.75V470ZM427.75 470V469.25H432.5V470ZM432.5 470V469H437.25V470ZM437.25 470V468.75H442V470ZM442 470V469H446.75V470ZM446.75 470V468.75H449.5V470Z" fill="#0b0b9c" stroke="#000" stroke-width="0.75" stroke-linejoin="miter"/>
<rect x="301.3" y="350.5" width="27" height="119.5" fill="#808080" opacity="0.15"/>
<path d="M301.3 350.5H449.5V470" fill="none" stroke="#3a3a3a" stroke-width="1"/>
<path d="M301.3 350.5V470H449.5" fill="none" stroke="#000" stroke-width="1"/>
<text transform="translate(297.4 364.6)" font-size="9.4" text-anchor="end" fill="#000">0.10</text>
<text transform="translate(297.4 386.3)" font-size="9.4" text-anchor="end" fill="#000">0.08</text>
<text transform="translate(297.4 408.1)" font-size="9.4" text-anchor="end" fill="#000">0.06</text>
<text transform="translate(297.4 429.8)" font-size="9.4" text-anchor="end" fill="#000">0.04</text>
<text transform="translate(297.4 451.6)" font-size="9.4" text-anchor="end" fill="#000">0.02</text>
<text transform="translate(297.4 473.3)" font-size="9.4" text-anchor="end" fill="#000">0.00</text>
<path d="M298.7 361.3H301.3M298.7 383H301.3M298.7 404.8H301.3M298.7 426.5H301.3M298.7 448.3H301.3M298.7 470H301.3M299.8 372.15H301.3M299.8 393.9H301.3M299.8 415.65H301.3M299.8 437.4H301.3M299.8 459.15H301.3M314.77 470V472.6M341.72 470V472.6M368.66 470V472.6M395.61 470V472.6M422.55 470V472.6M449.5 470V472.6M328.25 470V471.5M355.19 470V471.5M382.14 470V471.5M409.08 470V471.5M436.03 470V471.5" stroke="#000" stroke-width="0.8" fill="none"/>
<text transform="translate(314.5 481) scale(1.08 1)" font-size="9.6" text-anchor="middle" fill="#000">0.0</text>
<text transform="translate(341.6 481) scale(1.08 1)" font-size="9.6" text-anchor="middle" fill="#000">0.2</text>
<text transform="translate(368.6 481) scale(1.08 1)" font-size="9.6" text-anchor="middle" fill="#000">0.4</text>
<text transform="translate(395.6 481) scale(1.08 1)" font-size="9.6" text-anchor="middle" fill="#000">0.6</text>
<text transform="translate(422.6 481) scale(1.08 1)" font-size="9.6" text-anchor="middle" fill="#000">0.8</text>
<text transform="translate(449.5 481) scale(1.08 1)" font-size="9.6" text-anchor="middle" fill="#000">1.0</text>
<text transform="translate(370.6 496.4) scale(1.2 1)" font-size="12.4" text-anchor="middle" fill="#000">FRET efficiency</text>
<rect x="473.8" y="350.5" width="27" height="119.5" fill="#e3e3e3"/>
<path d="M473.75 470V418.25H476.5V470ZM476.5 470V363.25H481.25V470ZM481.25 470V364.25H486V470ZM486 470V373.25H490.75V470ZM490.75 470V387H495.5V470ZM495.5 470V390.5H500.25V470ZM500.25 470V402.5H505V470ZM505 470V412.25H509.75V470ZM509.75 470V418.5H514.5V470ZM514.5 470V430.25H519.25V470ZM519.25 470V434.25H524V470ZM524 470V440H528.75V470ZM528.75 470V442.5H533.5V470ZM533.5 470V443.5H538.25V470ZM538.25 470V449H543V470ZM543 470V458H547.75V470ZM547.75 470V462H552.5V470ZM552.5 470V465H557.25V470ZM557.25 470V467.5H562V470ZM562 470V468.5H566.75V470ZM566.75 470V469H571.5V470ZM571.5 470V469.25H576.25V470ZM576.25 470V469H581V470ZM581 470V469.25H585.75V470ZM585.75 470V469.5H590.5V470ZM590.5 470V469.5H595.25V470ZM595.25 470V469.25H600V470ZM600 470V469.5H604.75V470ZM604.75 470V469.5H609.5V470ZM609.5 470V469.5H614.25V470ZM614.25 470V469.5H619V470ZM619 470V469.5H622.5V470Z" fill="#0b0b9c" stroke="#000" stroke-width="0.75" stroke-linejoin="miter"/>
<rect x="473.8" y="350.5" width="27" height="119.5" fill="#808080" opacity="0.15"/>
<path d="M473.8 350.5H622.5V470" fill="none" stroke="#3a3a3a" stroke-width="1"/>
<path d="M473.8 350.5V470H622.5" fill="none" stroke="#000" stroke-width="1"/>
<text transform="translate(469.9 362.6)" font-size="9.4" text-anchor="end" fill="#000">0.12</text>
<text transform="translate(469.9 381)" font-size="9.4" text-anchor="end" fill="#000">0.10</text>
<text transform="translate(469.9 399.5)" font-size="9.4" text-anchor="end" fill="#000">0.08</text>
<text transform="translate(469.9 417.9)" font-size="9.4" text-anchor="end" fill="#000">0.06</text>
<text transform="translate(469.9 436.4)" font-size="9.4" text-anchor="end" fill="#000">0.04</text>
<text transform="translate(469.9 454.8)" font-size="9.4" text-anchor="end" fill="#000">0.02</text>
<text transform="translate(469.9 473.3)" font-size="9.4" text-anchor="end" fill="#000">0.00</text>
<path d="M471.2 359.3H473.8M471.2 377.7H473.8M471.2 396.2H473.8M471.2 414.6H473.8M471.2 433.1H473.8M471.2 451.5H473.8M471.2 470H473.8M472.3 368.5H473.8M472.3 386.95H473.8M472.3 405.4H473.8M472.3 423.85H473.8M472.3 442.3H473.8M472.3 460.75H473.8M487.32 470V472.6M514.35 470V472.6M541.39 470V472.6M568.43 470V472.6M595.46 470V472.6M622.5 470V472.6M500.84 470V471.5M527.87 470V471.5M554.91 470V471.5M581.95 470V471.5M608.98 470V471.5" stroke="#000" stroke-width="0.8" fill="none"/>
<text transform="translate(487 481) scale(1.08 1)" font-size="9.6" text-anchor="middle" fill="#000">0.0</text>
<text transform="translate(514.2 481) scale(1.08 1)" font-size="9.6" text-anchor="middle" fill="#000">0.2</text>
<text transform="translate(541.2 481) scale(1.08 1)" font-size="9.6" text-anchor="middle" fill="#000">0.4</text>
<text transform="translate(568.3 481) scale(1.08 1)" font-size="9.6" text-anchor="middle" fill="#000">0.6</text>
<text transform="translate(595.4 481) scale(1.08 1)" font-size="9.6" text-anchor="middle" fill="#000">0.8</text>
<text transform="translate(622.5 481) scale(1.08 1)" font-size="9.6" text-anchor="middle" fill="#000">1.0</text>
<text transform="translate(542.5 496.4) scale(1.2 1)" font-size="12.4" text-anchor="middle" fill="#000">FRET efficiency</text>
<rect x="645.5" y="350.5" width="27.3" height="119.5" fill="#e3e3e3"/>
<path d="M645.5 470V416.75H648.25V470ZM648.25 470V366.5H652.94V470ZM652.94 470V363.75H657.62V470ZM657.62 470V373H662.31V470ZM662.31 470V388.75H667V470ZM667 470V390.5H671.69V470ZM671.69 470V408.25H676.38V470ZM676.38 470V413.75H681.06V470ZM681.06 470V420.25H685.75V470ZM685.75 470V432.5H690.44V470ZM690.44 470V436.5H695.12V470ZM695.12 470V441.5H699.81V470ZM699.81 470V443.75H704.5V470ZM704.5 470V444.5H709.19V470ZM709.19 470V447.5H713.88V470ZM713.88 470V458.5H718.56V470ZM718.56 470V460.75H723.25V470ZM723.25 470V463.5H727.94V470ZM727.94 470V466.25H732.62V470ZM732.62 470V467.75H737.31V470ZM737.31 470V468.5H742V470ZM742 470V469H746.69V470ZM746.69 470V469H751.38V470ZM751.38 470V468.75H756.06V470ZM756.06 470V469.25H760.75V470ZM760.75 470V469.25H765.44V470ZM765.44 470V469.5H770.12V470ZM770.12 470V469.5H774.81V470Z" fill="#0b0b9c" stroke="#000" stroke-width="0.75" stroke-linejoin="miter"/>
<rect x="645.5" y="350.5" width="27.3" height="119.5" fill="#808080" opacity="0.15"/>
<path d="M645.5 350.5H792.5V470" fill="none" stroke="#3a3a3a" stroke-width="1"/>
<path d="M645.5 350.5V470H792.5" fill="none" stroke="#000" stroke-width="1"/>
<text transform="translate(641.6 363.8)" font-size="9.4" text-anchor="end" fill="#000">0.12</text>
<text transform="translate(641.6 391.2)" font-size="9.4" text-anchor="end" fill="#000">0.09</text>
<text transform="translate(641.6 418.6)" font-size="9.4" text-anchor="end" fill="#000">0.06</text>
<text transform="translate(641.6 445.9)" font-size="9.4" text-anchor="end" fill="#000">0.03</text>
<text transform="translate(641.6 473.3)" font-size="9.4" text-anchor="end" fill="#000">0.00</text>
<path d="M642.9 360.5H645.5M642.9 387.9H645.5M642.9 415.3H645.5M642.9 442.6H645.5M642.9 470H645.5M644 374.2H645.5M644 401.6H645.5M644 428.95H645.5M644 456.3H645.5M658.86 470V472.6M685.59 470V472.6M712.32 470V472.6M739.05 470V472.6M765.77 470V472.6M792.5 470V472.6M672.23 470V471.5M698.95 470V471.5M725.68 470V471.5M752.41 470V471.5M779.14 470V471.5" stroke="#000" stroke-width="0.8" fill="none"/>
<text transform="translate(658.8 481) scale(1.08 1)" font-size="9.6" text-anchor="middle" fill="#000">0.0</text>
<text transform="translate(685.7 481) scale(1.08 1)" font-size="9.6" text-anchor="middle" fill="#000">0.2</text>
<text transform="translate(712.5 481) scale(1.08 1)" font-size="9.6" text-anchor="middle" fill="#000">0.4</text>
<text transform="translate(739.3 481) scale(1.08 1)" font-size="9.6" text-anchor="middle" fill="#000">0.6</text>
<text transform="translate(766.2 481) scale(1.08 1)" font-size="9.6" text-anchor="middle" fill="#000">0.8</text>
<text transform="translate(793.2 481) scale(1.08 1)" font-size="9.6" text-anchor="middle" fill="#000">1.0</text>
<text transform="translate(712.2 496.4) scale(1.2 1)" font-size="12.4" text-anchor="middle" fill="#000">FRET efficiency</text>
<text transform="translate(97.8 278) rotate(-90) scale(0.86 1)" font-size="15" text-anchor="middle" fill="#000">Probability</text>
<text transform="translate(97.8 412.5) rotate(-90) scale(0.86 1)" font-size="15" text-anchor="middle" fill="#000">Probability</text>
<text transform="translate(35.2 288) scale(1.2 1)" font-size="12.3" text-anchor="middle" fill="#000">Non-LLPS</text>
<text transform="translate(35.4 406.1) scale(1.2 1)" font-size="12.3" text-anchor="middle" fill="#000">LLPS</text>
<text transform="translate(34 422.2) scale(1.2 1)" font-size="12.3" text-anchor="middle" fill="#000">15% PEG</text>
<path d="M245 566L246.6 560L248 552L249.6 560L251 564L252.6 558L254 554L255.6 563L257 570L258.4 573L260 580L261 577L262 576L263.2 588L264 597L265.6 588L267 582L268.6 580L270 578L271.2 586L272 592L273.6 589L275 590L276.6 595L278 598L279.2 607L281 604L283 607L286 615L290 623L293 628L295 634L300 643L304 651L307 654L310 659L314 663L317 667L320 668.4L325 671L330 672.4L340 675.2L360 676.4L416 676.8" fill="none" stroke="#bdbdbd" stroke-width="1.3" stroke-linejoin="round"/>
<path d="M245 568C246.17 568.83 249.5 571.33 252 573C254.5 574.67 257 575.77 260 578C263 580.23 266.67 582.73 270 586.4C273.33 590.07 276.67 594.73 280 600C283.33 605.27 286.67 612 290 618C293.33 624 296.67 630.33 300 636C303.33 641.67 306.67 647.5 310 652C313.33 656.5 316.67 660 320 663C323.33 666 326.67 668.17 330 670C333.33 671.83 336.67 673.07 340 674C343.33 674.93 345 675.2 350 675.6C355 676 359 676.2 370 676.4C381 676.6 408.33 676.73 416 676.8" fill="none" stroke="#000" stroke-width="1.1"/>
<path d="M245 568C246.17 568.83 249.5 571.33 252 573C254.5 574.67 257 575.83 260 578C263 580.17 266.67 582.67 270 586C273.33 589.33 276.67 593.33 280 598C283.33 602.67 286.67 608.67 290 614C293.33 619.33 296.67 624.83 300 630C303.33 635.17 306.67 640.67 310 645C313.33 649.33 316.67 652.67 320 656C323.33 659.33 326.67 662.67 330 665C333.33 667.33 336.67 668.57 340 670C343.33 671.43 346.67 672.77 350 673.6C353.33 674.43 355 674.6 360 675C365 675.4 373.33 675.73 380 676C386.67 676.27 394 676.47 400 676.6C406 676.73 413.33 676.77 416 676.8" fill="none" stroke="#1c1cff" stroke-width="1.3"/>
<path d="M245 559L246.4 563L247.6 581L249 572L250 573L251 566L252.4 568L254 565L255 567L256 563L257.2 570L258 573L259.2 571L260 575L261.2 568L262 560L263.2 564L264 562L265 569L266 566L267 567L268 571L269 573L270 571L271 570L272 572.4L273 573L274 570.6L275 571L276.4 572.6L278 572L279 574L280 575L281.6 578L283 579L284.4 578.6L286 581L288 584L290 585L292 588L294 589L296 591.6L298 592L300 596L305 605L310 614L315 624L320 634L325 643L330 651L335 657.6L340 663L345 667L350 670L355 671.8L360 673L370 674.4L380 675.4L400 676.2L416 676.6" fill="none" stroke="#ff1010" stroke-width="1.1" stroke-linejoin="round"/>
<text transform="translate(240.7 550.1)" font-size="10.6" text-anchor="end" fill="#000">1.2</text>
<text transform="translate(240.7 571.8)" font-size="10.6" text-anchor="end" fill="#000">1.0</text>
<text transform="translate(240.7 593.5)" font-size="10.6" text-anchor="end" fill="#000">0.8</text>
<text transform="translate(240.7 615.2)" font-size="10.6" text-anchor="end" fill="#000">0.6</text>
<text transform="translate(240.7 636.9)" font-size="10.6" text-anchor="end" fill="#000">0.4</text>
<text transform="translate(240.7 658.6)" font-size="10.6" text-anchor="end" fill="#000">0.2</text>
<text transform="translate(240.7 680.3)" font-size="10.6" text-anchor="end" fill="#000">0.0</text>
<text transform="translate(244.9 691.2)" font-size="10.6" text-anchor="middle" fill="#000">1E-5</text>
<text transform="translate(273.4 691.2)" font-size="10.6" text-anchor="middle" fill="#000">1E-4</text>
<text transform="translate(301.2 691.2)" font-size="10.6" text-anchor="middle" fill="#000">0.001</text>
<text transform="translate(328.8 691.2)" font-size="10.6" text-anchor="middle" fill="#000">0.01</text>
<text transform="translate(356.6 691.2)" font-size="10.6" text-anchor="middle" fill="#000">0.1</text>
<text transform="translate(384.4 691.2)" font-size="10.6" text-anchor="middle" fill="#000">1</text>
<text transform="translate(412.2 691.2)" font-size="10.6" text-anchor="middle" fill="#000">10</text>
<path d="M245.2 535V677.3H421M242 546.3H245.2M243.4 557.15H245.2M242 568H245.2M243.4 578.85H245.2M242 589.7H245.2M243.4 600.55H245.2M242 611.4H245.2M243.4 622.25H245.2M242 633.1H245.2M243.4 643.95H245.2M242 654.8H245.2M243.4 665.65H245.2M242 676.5H245.2M243.4 687.35H245.2M244.9 677.3V680.5M273.4 677.3V680.5M301.2 677.3V680.5M328.8 677.3V680.5M356.6 677.3V680.5M384.4 677.3V680.5M412.2 677.3V680.5" fill="none" stroke="#000" stroke-width="1.1"/>
<path d="M294 544.4H312" stroke="#000" stroke-width="1.2"/>
<text transform="translate(316.4 548)" font-size="10" text-anchor="start" fill="#000">Native AF488</text>
<path d="M294 555.4H312" stroke="#bdbdbd" stroke-width="1.2"/>
<text transform="translate(316.4 559)" font-size="10" text-anchor="start" fill="#000">Native AF647</text>
<path d="M294 566.4H312" stroke="#1c1cff" stroke-width="1.2"/>
<text transform="translate(316.4 570)" font-size="10" text-anchor="start" fill="#000">15% PEG AF488</text>
<path d="M294 577.4H312" stroke="#ff1010" stroke-width="1.2"/>
<text transform="translate(316.4 581)" font-size="10" text-anchor="start" fill="#000">15% PEG AF647</text>
<text transform="translate(207 525.6) scale(1.1 1)" font-size="17" text-anchor="start" fill="#000">A</text>
<text transform="translate(221.8 616.5) rotate(-90) scale(0.875 1)" font-size="16" text-anchor="middle">Normalized G<tspan font-size="12.5" dy="0"> (<tspan font-family="Liberation Serif" font-size="15">τ</tspan>)</tspan></text>
<text transform="translate(332.8 707.6) scale(1.09 1)" font-size="15.6" text-anchor="middle" fill="#000">Time (s)</text>
<path d="M468.75 558.75L470.5 572.5L472 557.5L473.75 565L475.5 555L477.5 562.5L479.5 553.75L481.25 567.5L483 560L485 565L487 550L488.75 562.5L491.25 560L493.75 563.75L496.25 561.25L498.25 565L500 565L502.5 563.75L504.5 567.5L506.25 571.25L508.25 570L510 572.5L512 576.25L513.75 577.5L515.5 578.75L517.5 581.25L519.5 583.75L521.25 586.25L523 585.5L525 587.5L526.25 592.5L527.5 596.25L530 600.5L532.5 605L535 611.25L537.5 617.5L540 623L542.5 628.75L545 633L547.5 637.5L550 642L552.5 646.25L556.25 651.75L560 656.25L563.75 660.25L567.5 663.75L571.25 666.5L575 668.75L580 670.5L585 672L591.25 673.25L597.5 674.25L610 675.25L635 675.75" fill="none" stroke="#8b1a1a" stroke-width="1.1" stroke-linejoin="round"/>
<path d="M468.75 557.5L470 547.5L471.25 560L473 555L475 570L477 560L478.75 563.75L481.25 557.5L483.75 566.25L486.25 561.25L488.75 566.25L491.25 563.75L493.75 571.25L496.25 567.5L498.75 573.75L501.25 571.25L503.75 576.25L506.25 575L508 580L510 582.5L511.75 583.75L513.75 587.5L515.5 588.75L517.5 592.5L520 597L522.5 600L525 603.75L527.5 606.25L530 611.25L532.5 615L535 618.75L537.5 623.75L540 627L542.5 631.25L545 635L547.5 638.75L550 641.75L552.5 645L556.25 649.5L560 653.75L563.75 657L567.5 660L571.25 662.75L575 665L580 667.5L585 669.5L591.25 671.25L597.5 672.5L603.75 673.5L610 674.5L622.5 675.25L635 675.5" fill="none" stroke="#1c1cff" stroke-width="1.1" stroke-linejoin="round"/>
<path d="M468.75 558.75C469.79 558.88 472.29 559.08 475 559.5C477.71 559.92 482.29 560.54 485 561.25C487.71 561.96 489.17 562.71 491.25 563.75C493.33 564.79 495.42 565.83 497.5 567.5C499.58 569.17 501.67 571.67 503.75 573.75C505.83 575.83 507.92 577.79 510 580C512.08 582.21 514.17 584.92 516.25 587C518.33 589.08 520.42 590.33 522.5 592.5C524.58 594.67 526.67 597.71 528.75 600C530.83 602.29 532.92 603.96 535 606.25C537.08 608.54 539.17 611.25 541.25 613.75C543.33 616.25 545.42 618.96 547.5 621.25C549.58 623.54 551.67 625.21 553.75 627.5C555.83 629.79 558.33 632.92 560 635C561.67 637.08 562.5 638.54 563.75 640C565 641.46 566.25 642.71 567.5 643.75C568.75 644.79 570 645 571.25 646.25C572.5 647.5 573.96 649.79 575 651.25C576.04 652.71 576.67 653.75 577.5 655C578.33 656.25 578.96 657.83 580 658.75C581.04 659.67 582.08 659.88 583.75 660.5C585.42 661.12 588.33 661.75 590 662.5C591.67 663.25 592.71 664.38 593.75 665C594.79 665.62 595.42 665.62 596.25 666.25C597.08 666.88 598.12 668.21 598.75 668.75C599.38 669.29 599.38 669.5 600 669.5C600.62 669.5 601.67 668.88 602.5 668.75C603.33 668.62 604.17 668.42 605 668.75C605.83 669.08 606.67 670.12 607.5 670.75C608.33 671.38 608.75 672 610 672.5C611.25 673 613.33 673.42 615 673.75C616.67 674.08 616.67 674.21 620 674.5C623.33 674.79 632.5 675.33 635 675.5" fill="none" stroke="#149a9a" stroke-width="1.2" stroke-linejoin="round"/>
<path d="M468.75 559.5C471.46 559.79 480.21 560.54 485 561.25C489.79 561.96 493.33 562.92 497.5 563.75C501.67 564.58 505.83 565.42 510 566.25C514.17 567.08 519.38 568 522.5 568.75C525.62 569.5 526.67 569.92 528.75 570.75C530.83 571.58 532.92 572.71 535 573.75C537.08 574.79 539.17 575.75 541.25 577C543.33 578.25 545.42 579.71 547.5 581.25C549.58 582.79 551.67 584.38 553.75 586.25C555.83 588.12 558.33 590.62 560 592.5C561.67 594.38 562.5 596.04 563.75 597.5C565 598.96 566.46 600.42 567.5 601.25C568.54 602.08 569.17 602.29 570 602.5C570.83 602.71 571.67 601.75 572.5 602.5C573.33 603.25 574.17 605.33 575 607C575.83 608.67 576.67 610.54 577.5 612.5C578.33 614.46 579.17 616.46 580 618.75C580.83 621.04 581.67 624.04 582.5 626.25C583.33 628.46 584.17 630.12 585 632C585.83 633.88 586.67 635.67 587.5 637.5C588.33 639.33 589.17 641.12 590 643C590.83 644.88 591.67 647.08 592.5 648.75C593.33 650.42 594.17 651.75 595 653C595.83 654.25 596.58 654.88 597.5 656.25C598.42 657.62 599.46 659.79 600.5 661.25C601.54 662.71 602.79 664.46 603.75 665C604.71 665.54 605.42 664.92 606.25 664.5C607.08 664.08 608 662.33 608.75 662.5C609.5 662.67 610.12 664.46 610.75 665.5C611.38 666.54 611.79 667.79 612.5 668.75C613.21 669.71 614.17 670.62 615 671.25C615.83 671.88 615.83 671.96 617.5 672.5C619.17 673.04 622.08 674.08 625 674.5C627.92 674.92 632.08 675.12 635 675C637.92 674.88 641.25 673.96 642.5 673.75" fill="none" stroke="#ff1a1a" stroke-width="1.2" stroke-linejoin="round"/>
<path d="M468.75 558.75C477.71 558.88 512.5 559.29 522.5 559.5C532.5 559.71 526.67 559.71 528.75 560C530.83 560.29 532.92 560.62 535 561.25C537.08 561.88 539.17 562.71 541.25 563.75C543.33 564.79 545.42 566.04 547.5 567.5C549.58 568.96 551.67 570.83 553.75 572.5C555.83 574.17 558.33 576.08 560 577.5C561.67 578.92 562.5 579.96 563.75 581C565 582.04 566.46 583.17 567.5 583.75C568.54 584.33 569.17 584.5 570 584.5C570.83 584.5 571.67 583.17 572.5 583.75C573.33 584.33 574.17 586.54 575 588C575.83 589.46 576.67 591.25 577.5 592.5C578.33 593.75 579.17 594.67 580 595.5C580.83 596.33 581.67 596.75 582.5 597.5C583.33 598.25 584.17 598.96 585 600C585.83 601.04 586.67 602.29 587.5 603.75C588.33 605.21 589.17 607.08 590 608.75C590.83 610.42 591.67 611.96 592.5 613.75C593.33 615.54 594.17 617.42 595 619.5C595.83 621.58 596.75 624.29 597.5 626.25C598.25 628.21 598.88 629.38 599.5 631.25C600.12 633.12 600.79 635 601.25 637.5C601.71 640 601.96 643.33 602.25 646.25C602.54 649.17 602.71 652.29 603 655C603.29 657.71 603.67 660.21 604 662.5C604.33 664.79 604.62 667.29 605 668.75C605.38 670.21 605.83 670.62 606.25 671.25C606.67 671.88 606.88 671.96 607.5 672.5C608.12 673.04 607.5 674.08 610 674.5C612.5 674.92 618.33 674.88 622.5 675C626.67 675.12 632.92 675.21 635 675.25" fill="none" stroke="#ff8a10" stroke-width="1.2" stroke-linejoin="round"/>
<path d="M468.75 558.75C479.79 558.88 522.92 559.29 535 559.5C547.08 559.71 539.17 559.71 541.25 560C543.33 560.29 545.42 560.75 547.5 561.25C549.58 561.75 551.67 562.38 553.75 563C555.83 563.62 557.92 564.33 560 565C562.08 565.67 564.17 566.38 566.25 567C568.33 567.62 570.83 567.92 572.5 568.75C574.17 569.58 575 570.75 576.25 572C577.5 573.25 578.96 574.92 580 576.25C581.04 577.58 581.67 578.75 582.5 580C583.33 581.25 584.17 582.42 585 583.75C585.83 585.08 586.67 586.54 587.5 588C588.33 589.46 589.17 591.21 590 592.5C590.83 593.79 591.67 594.83 592.5 595.75C593.33 596.67 594.17 597.5 595 598C595.83 598.5 596.67 598.62 597.5 598.75C598.33 598.88 599.38 597.92 600 598.75C600.62 599.58 600.83 601.88 601.25 603.75C601.67 605.62 601.96 607.5 602.5 610C603.04 612.5 603.88 615.83 604.5 618.75C605.12 621.67 605.67 625 606.25 627.5C606.83 630 607.38 631.67 608 633.75C608.62 635.83 609.33 637.92 610 640C610.67 642.08 611.38 644.17 612 646.25C612.62 648.33 613.17 650.42 613.75 652.5C614.33 654.58 614.88 656.67 615.5 658.75C616.12 660.83 616.83 663.21 617.5 665C618.17 666.79 618.88 668.25 619.5 669.5C620.12 670.75 620.33 671.67 621.25 672.5C622.17 673.33 623.12 674.08 625 674.5C626.88 674.92 630.96 675.12 632.5 675C634.04 674.88 633.75 674.58 634.25 673.75C634.75 672.92 635.08 671.25 635.5 670C635.92 668.75 636.38 666.25 636.75 666.25C637.12 666.25 637.42 668.75 637.75 670C638.08 671.25 638.17 672.92 638.75 673.75C639.33 674.58 640.42 675 641.25 675C642.08 675 643.33 673.96 643.75 673.75" fill="none" stroke="#8a2be2" stroke-width="1.2" stroke-linejoin="round"/>
<path d="M468.75 558.75C483.96 558.88 542.71 559.25 560 559.5C577.29 559.75 568.33 559.96 572.5 560.25C576.67 560.54 581.88 560.92 585 561.25C588.12 561.58 589.17 561.83 591.25 562.25C593.33 562.67 595.83 563.21 597.5 563.75C599.17 564.29 600 564.88 601.25 565.5C602.5 566.12 603.96 566.79 605 567.5C606.04 568.21 606.67 568.92 607.5 569.75C608.33 570.58 609.17 571.38 610 572.5C610.83 573.62 611.67 575.04 612.5 576.5C613.33 577.96 614.17 579.42 615 581.25C615.83 583.08 616.67 585.21 617.5 587.5C618.33 589.79 619.17 592.17 620 595C620.83 597.83 621.67 601.17 622.5 604.5C623.33 607.83 624.17 611.38 625 615C625.83 618.62 626.67 622.5 627.5 626.25C628.33 630 629.17 633.88 630 637.5C630.83 641.12 631.67 644.67 632.5 648C633.33 651.33 634.25 654.88 635 657.5C635.75 660.12 636.38 661.88 637 663.75C637.62 665.62 638.25 667.38 638.75 668.75C639.25 670.12 639.58 671.04 640 672C640.42 672.96 640.75 673.79 641.25 674.5C641.75 675.21 642.46 676.58 643 676.25C643.54 675.92 644.25 673.12 644.5 672.5" fill="none" stroke="#000" stroke-width="1.1" stroke-linejoin="round"/>
<text transform="translate(464.1 539.1)" font-size="10.6" text-anchor="end" fill="#000">1.2</text>
<text transform="translate(464.1 562.6)" font-size="10.6" text-anchor="end" fill="#000">1.0</text>
<text transform="translate(464.1 586.1)" font-size="10.6" text-anchor="end" fill="#000">0.8</text>
<text transform="translate(464.1 609.6)" font-size="10.6" text-anchor="end" fill="#000">0.6</text>
<text transform="translate(464.1 633.1)" font-size="10.6" text-anchor="end" fill="#000">0.4</text>
<text transform="translate(464.1 656.6)" font-size="10.6" text-anchor="end" fill="#000">0.2</text>
<text transform="translate(464.1 680.1)" font-size="10.6" text-anchor="end" fill="#000">0.0</text>
<text transform="translate(468 691.2)" font-size="10.6" text-anchor="middle" fill="#000">1E-5</text>
<text transform="translate(497.3 691.2)" font-size="10.6" text-anchor="middle" fill="#000">1E-4</text>
<text transform="translate(526.2 691.2)" font-size="10.6" text-anchor="middle" fill="#000">0.001</text>
<text transform="translate(555.4 691.2)" font-size="10.6" text-anchor="middle" fill="#000">0.01</text>
<text transform="translate(584.5 691.2)" font-size="10.6" text-anchor="middle" fill="#000">0.1</text>
<text transform="translate(613.6 691.2)" font-size="10.6" text-anchor="middle" fill="#000">1</text>
<text transform="translate(642.7 691.2)" font-size="10.6" text-anchor="middle" fill="#000">10</text>
<path d="M468.6 535V676.3H646M465.4 535.3H468.6M466.8 547.05H468.6M465.4 558.8H468.6M466.8 570.55H468.6M465.4 582.3H468.6M466.8 594.05H468.6M465.4 605.8H468.6M466.8 617.55H468.6M465.4 629.3H468.6M466.8 641.05H468.6M465.4 652.8H468.6M466.8 664.55H468.6M465.4 676.3H468.6M468.6 676.3V679.5M497.9 676.3V679.5M526.8 676.3V679.5M556 676.3V679.5M585.1 676.3V679.5M614.2 676.3V679.5M643.3 676.3V679.5" fill="none" stroke="#000" stroke-width="1.1"/>
<path d="M475 618H493.8" stroke="#8b1a1a" stroke-width="1.1"/>
<text transform="translate(494.3 620.9)" font-size="7.8" text-anchor="start" fill="#000">100 pM</text>
<path d="M475 626.67H493.8" stroke="#1c1cff" stroke-width="1.1"/>
<text transform="translate(494.3 629.57)" font-size="7.8" text-anchor="start" fill="#000">1 nM</text>
<path d="M475 635.34H493.8" stroke="#149a9a" stroke-width="1.1"/>
<text transform="translate(494.3 638.24)" font-size="7.8" text-anchor="start" fill="#000">2 nM</text>
<path d="M475 644.01H493.8" stroke="#ff1a1a" stroke-width="1.1"/>
<text transform="translate(494.3 646.91)" font-size="7.8" text-anchor="start" fill="#000">5 nM</text>
<path d="M475 652.68H493.8" stroke="#ff8a10" stroke-width="1.1"/>
<text transform="translate(494.3 655.58)" font-size="7.8" text-anchor="start" fill="#000">10 nM</text>
<path d="M475 661.35H493.8" stroke="#8a2be2" stroke-width="1.1"/>
<text transform="translate(494.3 664.25)" font-size="7.8" text-anchor="start" fill="#000">100 nM</text>
<path d="M475 670.02H493.8" stroke="#000" stroke-width="1.1"/>
<text transform="translate(494.3 672.92)" font-size="7.8" text-anchor="start" fill="#000">500 nM</text>
<text transform="translate(430 525.6) scale(1.1 1)" font-size="17" text-anchor="start" fill="#000">B</text>
<text transform="translate(441.8 616.5) rotate(-90) scale(0.875 1)" font-size="16" text-anchor="middle">Normalized G<tspan font-size="12.5"> (<tspan font-family="Liberation Serif" font-size="15">τ</tspan>)</tspan></text>
<text transform="translate(561 707.6) scale(1.09 1)" font-size="15.6" text-anchor="middle" fill="#000">Time (s)</text>
<text transform="translate(240.4 737)" font-size="11.2" text-anchor="end" fill="#000">1.6</text>
<text transform="translate(240.4 770.1)" font-size="11.2" text-anchor="end" fill="#000">1.2</text>
<text transform="translate(240.4 803.2)" font-size="11.2" text-anchor="end" fill="#000">0.8</text>
<text transform="translate(240.4 836.4)" font-size="11.2" text-anchor="end" fill="#000">0.4</text>
<text transform="translate(240.4 869.5)" font-size="11.2" text-anchor="end" fill="#000">0.0</text>
<text transform="translate(257.5 895.7)" font-size="11.2" text-anchor="middle" fill="#000">0.1</text>
<text transform="translate(300.8 895.7)" font-size="11.2" text-anchor="middle" fill="#000">1</text>
<text transform="translate(344.1 895.7)" font-size="11.2" text-anchor="middle" fill="#000">10</text>
<text transform="translate(387.5 895.7)" font-size="11.2" text-anchor="middle" fill="#000">100</text>
<path d="M244.6 733V882.5H420M241.4 733H244.6M242.8 749.55H244.6M241.4 766.1H244.6M242.8 782.65H244.6M241.4 799.2H244.6M242.8 815.75H244.6M241.4 832.4H244.6M242.8 848.95H244.6M241.4 865.5H244.6M242.8 882.05H244.6M257.5 882.5V885.7M300.8 882.5V885.7M344.1 882.5V885.7M387.5 882.5V885.7" fill="none" stroke="#000" stroke-width="1.1"/>
<rect x="255.8" y="863.6" width="3.4" height="3.4" fill="#ff1010"/>
<rect x="299" y="863.6" width="3.4" height="3.4" fill="#ff1010"/>
<rect x="312.1" y="862.9" width="3.4" height="3.4" fill="#ff1010"/>
<path d="M331.1 851.5V856.8M328.8 851.5H333.4M328.8 856.8H333.4" stroke="#ff1010" stroke-width="1" fill="none"/><rect x="329.3" y="852.5" width="3.6" height="3.6" fill="#ff1010"/>
<path d="M344.1 835V852.3M341.8 835H346.4M341.8 852.3H346.4" stroke="#ff1010" stroke-width="1" fill="none"/><rect x="342.3" y="842.2" width="3.6" height="3.6" fill="#ff1010"/>
<path d="M387.5 793.7V833.6M385.2 793.7H389.8M385.2 833.6H389.8" stroke="#ff1010" stroke-width="1" fill="none"/><rect x="385.7" y="812" width="3.6" height="3.6" fill="#ff1010"/>
<path d="M417.7 750V768.4M415.4 750H420M415.4 768.4H420" stroke="#ff1010" stroke-width="1" fill="none"/><rect x="415.9" y="757.4" width="3.6" height="3.6" fill="#ff1010"/>
<text transform="translate(207.5 723.2) scale(1.08 1)" font-size="17" text-anchor="start" fill="#000">C</text>
<text transform="translate(219 798.2) rotate(-90)" font-size="19" text-anchor="middle"><tspan font-family="Liberation Serif">τ</tspan><tspan font-size="12.5"> (s)</tspan></text>
<text transform="translate(337 914.5) scale(1.09 1)" font-size="15.6" text-anchor="middle" fill="#000">Tau (nM)</text>
<text x="464.1" y="888.6" font-size="11.5" text-anchor="end">10<tspan font-size="7.4" dy="-4.6">0</tspan></text>
<text x="464.1" y="839.73" font-size="11.5" text-anchor="end">10<tspan font-size="7.4" dy="-4.6">3</tspan></text>
<text x="464.1" y="790.87" font-size="11.5" text-anchor="end">10<tspan font-size="7.4" dy="-4.6">6</tspan></text>
<text x="464.1" y="742" font-size="11.5" text-anchor="end">10<tspan font-size="7.4" dy="-4.6">9</tspan></text>
<text transform="translate(481.6 895.7)" font-size="11.2" text-anchor="middle" fill="#000">0.1</text>
<text transform="translate(525.1 895.7)" font-size="11.2" text-anchor="middle" fill="#000">1</text>
<text transform="translate(568.6 895.7)" font-size="11.2" text-anchor="middle" fill="#000">10</text>
<text transform="translate(612.1 895.7)" font-size="11.2" text-anchor="middle" fill="#000">100</text>
<path d="M468.1 735V884H645M464.9 884H468.1M466.8 879.1H468.1M466.8 876.23H468.1M466.8 874.19H468.1M466.8 872.61H468.1M466.8 871.32H468.1M466.8 870.23H468.1M466.8 869.29H468.1M466.8 868.46H468.1M465.9 867.71H468.1M466.8 862.81H468.1M466.8 859.94H468.1M466.8 857.9H468.1M466.8 856.33H468.1M466.8 855.04H468.1M466.8 853.95H468.1M466.8 853H468.1M466.8 852.17H468.1M465.9 851.42H468.1M466.8 846.52H468.1M466.8 843.65H468.1M466.8 841.62H468.1M466.8 840.04H468.1M466.8 838.75H468.1M466.8 837.66H468.1M466.8 836.71H468.1M466.8 835.88H468.1M464.9 835.13H468.1M466.8 830.23H468.1M466.8 827.36H468.1M466.8 825.33H468.1M466.8 823.75H468.1M466.8 822.46H468.1M466.8 821.37H468.1M466.8 820.42H468.1M466.8 819.59H468.1M465.9 818.84H468.1M466.8 813.94H468.1M466.8 811.07H468.1M466.8 809.04H468.1M466.8 807.46H468.1M466.8 806.17H468.1M466.8 805.08H468.1M466.8 804.13H468.1M466.8 803.3H468.1M465.9 802.56H468.1M466.8 797.65H468.1M466.8 794.78H468.1M466.8 792.75H468.1M466.8 791.17H468.1M466.8 789.88H468.1M466.8 788.79H468.1M466.8 787.85H468.1M466.8 787.01H468.1M464.9 786.27H468.1M466.8 781.36H468.1M466.8 778.49H468.1M466.8 776.46H468.1M466.8 774.88H468.1M466.8 773.59H468.1M466.8 772.5H468.1M466.8 771.56H468.1M466.8 770.72H468.1M465.9 769.98H468.1M466.8 765.07H468.1M466.8 762.21H468.1M466.8 760.17H468.1M466.8 758.59H468.1M466.8 757.3H468.1M466.8 756.21H468.1M466.8 755.27H468.1M466.8 754.43H468.1M465.9 753.69H468.1M466.8 748.79H468.1M466.8 745.92H468.1M466.8 743.88H468.1M466.8 742.3H468.1M466.8 741.01H468.1M466.8 739.92H468.1M466.8 738.98H468.1M466.8 738.15H468.1M464.9 737.4H468.1M481.6 884V887.2M525.1 884V887.2M568.6 884V887.2M612.1 884V887.2" fill="none" stroke="#000" stroke-width="1.1"/>
<rect x="479.9" y="856.3" width="3.4" height="3.4" fill="#1414ff"/>
<rect x="523.3" y="847.5" width="3.4" height="3.4" fill="#1414ff"/>
<path d="M538.3 825V844.8M536 825H540.6M536 844.8H540.6" stroke="#1414ff" stroke-width="1" fill="none"/><rect x="536.5" y="827.8" width="3.6" height="3.6" fill="#1414ff"/>
<path d="M555.8 780.4V789.4M553.5 780.4H558.1M553.5 789.4H558.1" stroke="#1414ff" stroke-width="1" fill="none"/><rect x="554" y="782.1" width="3.6" height="3.6" fill="#1414ff"/>
<path d="M568.8 762.6V780.4M566.5 762.6H571.1M566.5 780.4H571.1" stroke="#1414ff" stroke-width="1" fill="none"/><rect x="567" y="765.1" width="3.6" height="3.6" fill="#1414ff"/>
<path d="M612.2 745.4V762.6M609.9 745.4H614.5M609.9 762.6H614.5" stroke="#1414ff" stroke-width="1" fill="none"/><rect x="610.4" y="747.9" width="3.6" height="3.6" fill="#1414ff"/>
<rect x="641" y="735.3" width="4" height="4" fill="#1414ff"/>
<text transform="translate(430 723.2) scale(1.08 1)" font-size="17" text-anchor="start" fill="#000">D</text>
<text transform="translate(440.9 808.5) rotate(-90) scale(0.9 1)" font-size="15.3" text-anchor="middle" fill="#000">Number of monomer</text>
<text transform="translate(564 914.5) scale(1.09 1)" font-size="15.6" text-anchor="middle" fill="#000">Tau (nM)</text>
<path d="M253.28 677.3V678.7M258.19 677.3V678.7M261.67 677.3V678.7M264.37 677.3V678.7M266.57 677.3V678.7M268.44 677.3V678.7M270.05 677.3V678.7M271.48 677.3V678.7M281.78 677.3V678.7M286.69 677.3V678.7M290.17 677.3V678.7M292.87 677.3V678.7M295.07 677.3V678.7M296.94 677.3V678.7M298.55 677.3V678.7M299.98 677.3V678.7M309.58 677.3V678.7M314.49 677.3V678.7M317.97 677.3V678.7M320.67 677.3V678.7M322.87 677.3V678.7M324.74 677.3V678.7M326.35 677.3V678.7M327.78 677.3V678.7M337.18 677.3V678.7M342.09 677.3V678.7M345.57 677.3V678.7M348.27 677.3V678.7M350.47 677.3V678.7M352.34 677.3V678.7M353.95 677.3V678.7M355.38 677.3V678.7M364.98 677.3V678.7M369.89 677.3V678.7M373.37 677.3V678.7M376.07 677.3V678.7M378.27 677.3V678.7M380.14 677.3V678.7M381.75 677.3V678.7M383.18 677.3V678.7M392.78 677.3V678.7M397.69 677.3V678.7M401.17 677.3V678.7M403.87 677.3V678.7M406.07 677.3V678.7M407.94 677.3V678.7M409.55 677.3V678.7M410.98 677.3V678.7M477.36 676.3V677.7M482.48 676.3V677.7M486.12 676.3V677.7M488.94 676.3V677.7M491.24 676.3V677.7M493.19 676.3V677.7M494.88 676.3V677.7M496.37 676.3V677.7M506.66 676.3V677.7M511.78 676.3V677.7M515.42 676.3V677.7M518.24 676.3V677.7M520.54 676.3V677.7M522.49 676.3V677.7M524.18 676.3V677.7M525.67 676.3V677.7M535.56 676.3V677.7M540.68 676.3V677.7M544.32 676.3V677.7M547.14 676.3V677.7M549.44 676.3V677.7M551.39 676.3V677.7M553.08 676.3V677.7M554.57 676.3V677.7M564.76 676.3V677.7M569.88 676.3V677.7M573.52 676.3V677.7M576.34 676.3V677.7M578.64 676.3V677.7M580.59 676.3V677.7M582.28 676.3V677.7M583.77 676.3V677.7M593.86 676.3V677.7M598.98 676.3V677.7M602.62 676.3V677.7M605.44 676.3V677.7M607.74 676.3V677.7M609.69 676.3V677.7M611.38 676.3V677.7M612.87 676.3V677.7M622.96 676.3V677.7M628.08 676.3V677.7M631.72 676.3V677.7M634.54 676.3V677.7M636.84 676.3V677.7M638.79 676.3V677.7M640.48 676.3V677.7M641.97 676.3V677.7M247.88 882.5V884.1M250.79 882.5V884.1M253.3 882.5V884.1M255.52 882.5V884.1M270.55 882.5V884.1M278.18 882.5V884.1M283.6 882.5V884.1M287.8 882.5V884.1M291.23 882.5V884.1M294.14 882.5V884.1M296.65 882.5V884.1M298.87 882.5V884.1M313.9 882.5V884.1M321.53 882.5V884.1M326.95 882.5V884.1M331.15 882.5V884.1M334.58 882.5V884.1M337.49 882.5V884.1M340 882.5V884.1M342.22 882.5V884.1M357.25 882.5V884.1M364.88 882.5V884.1M370.3 882.5V884.1M374.5 882.5V884.1M377.93 882.5V884.1M380.84 882.5V884.1M383.35 882.5V884.1M385.57 882.5V884.1M400.6 882.5V884.1M408.23 882.5V884.1M413.65 882.5V884.1M417.85 882.5V884.1M471.95 884V885.6M474.86 884V885.6M477.38 884V885.6M479.61 884V885.6M494.69 884V885.6M502.35 884V885.6M507.79 884V885.6M512.01 884V885.6M515.45 884V885.6M518.36 884V885.6M520.88 884V885.6M523.11 884V885.6M538.19 884V885.6M545.85 884V885.6M551.29 884V885.6M555.51 884V885.6M558.95 884V885.6M561.86 884V885.6M564.38 884V885.6M566.61 884V885.6M581.69 884V885.6M589.35 884V885.6M594.79 884V885.6M599.01 884V885.6M602.45 884V885.6M605.36 884V885.6M607.88 884V885.6M610.11 884V885.6M625.19 884V885.6M632.85 884V885.6M638.29 884V885.6M642.51 884V885.6" fill="none" stroke="#000" stroke-width="0.7"/>
<defs><linearGradient id="gDrop" x1="0" y1="0" x2="0" y2="1">
<stop offset="0" stop-color="#f6f9fe"/><stop offset="0.5" stop-color="#d6e4f5"/><stop offset="1" stop-color="#aecbe8"/></linearGradient></defs>
<text transform="translate(432.5 943.2)" font-size="19.6" text-anchor="middle" fill="#000">Nanoscale cluster</text>
<text transform="translate(546.4 1101.9)" font-size="16.55" text-anchor="middle" fill="#000">Tau monomer</text>
<text transform="translate(196.5 1198.8)" font-size="19.2" text-anchor="middle" fill="#000">Native Tau</text>
<text transform="translate(430 1285.6)" font-size="19.6" text-anchor="middle" fill="#000">Condensed liquid</text>
<text transform="translate(430 1308.3)" font-size="19.6" text-anchor="middle" fill="#000">droplet</text>
<text transform="translate(659.5 1285)" font-size="19.6" text-anchor="middle" fill="#000">Deposition of</text>
<text transform="translate(659 1308.7)" font-size="19.6" text-anchor="middle" fill="#000">amyloid fibrils</text>
<text transform="translate(251.6 1041.6) rotate(-22.6)" font-size="16.5" text-anchor="start" fill="#000">Low Conc.</text>
<text transform="translate(251.6 1072.5) rotate(-22.5)" font-size="16.5" text-anchor="start" fill="#000">crowded milieu</text>
<text transform="translate(272.2 1144.1) rotate(22.6)" font-size="16.4" text-anchor="start" fill="#000">High Conc.</text>
<text transform="translate(247.8 1159.1) rotate(23.1)" font-size="16.5" text-anchor="start" fill="#000">crowded milieu</text>
<g transform="translate(258.1 1049.1) rotate(-22.71)"><path d="M0 -1.6H67.05V-5.25L80.55 0L67.05 5.25V1.6H0Z" fill="#a9a6a6"/></g>
<g transform="translate(269.4 1150.6) rotate(23.61)"><path d="M0 -1.7H65.89V-5.5L79.89 0L65.89 5.5V1.7H0Z" fill="#595959"/></g>
<g transform="translate(433.6 1036.9) rotate(90)"><path d="M0 -1.55H67.4V-5.8L81.4 0L67.4 5.8V1.55H0Z" fill="#2b2b2b"/></g>
<g transform="translate(515 1191) rotate(0)"><path d="M0 -2.3H65.4V-8.25L80.4 0L65.4 8.25V2.3H0Z" fill="#111"/></g>
<path d="M484.6 1051.5C457 1051.3 442 1067 437.5 1088.6" fill="none" stroke="#8cc63f" stroke-width="3.2"/>
<ellipse cx="432" cy="1189.8" rx="70" ry="71.7" fill="url(#gDrop)" stroke="#8a8a8a" stroke-width="0.7" stroke-dasharray="2.5 1.5"/>
<path d="M409.93 1151C410.39 1149.94 411.16 1146.4 412.69 1144.62C414.21 1142.85 418 1141.08 419.06 1140.38" fill="none" stroke="#1515f0" stroke-width="1.65" stroke-linecap="round" stroke-linejoin="round"/><path d="M419.06 1140.38L419.33 1140.3L419.69 1140.2L420.13 1140.11L420.63 1140.02L421.15 1139.93L421.65 1139.8L422.12 1139.62L422.55 1139.41L422.96 1139.22L423.38 1139.12L423.8 1139.21L424.18 1139.46L424.46 1139.8L424.67 1140.18L424.8 1140.58L424.87 1140.98L424.91 1141.38L424.96 1141.8L425.08 1142.23L425.36 1142.66L425.79 1143.05L426.35 1143.35L427 1143.5L427.69 1143.47L428.41 1143.29L429.14 1143.02L429.89 1142.78L430.63 1142.69L431.34 1142.81L431.97 1143.13L432.5 1143.61L432.98 1144.2L433.45 1144.8L434.02 1145.24L434.66 1145.53L435.32 1145.77L435.93 1146L436.43 1146.26L436.83 1146.53L437.12 1146.75" fill="none" stroke="#ff1414" stroke-width="1.65" stroke-linecap="round" stroke-linejoin="round"/><path d="M437.12 1146.75C438.19 1146.93 441.55 1147.99 443.5 1147.81C445.45 1147.64 447.11 1146.57 448.81 1145.69C450.51 1144.8 452.89 1143.03 453.7 1142.5" fill="none" stroke="#1515f0" stroke-width="1.65" stroke-linecap="round" stroke-linejoin="round"/>
<path d="M390.38 1160.56C391.61 1160.92 395.69 1162.69 397.81 1162.69C399.94 1162.69 401.53 1161.62 403.12 1160.56C404.72 1159.5 406.67 1157.02 407.38 1156.31" fill="none" stroke="#1515f0" stroke-width="1.65" stroke-linecap="round" stroke-linejoin="round"/><path d="M407.38 1156.31L407.6 1156.01L407.88 1155.59L408.15 1155.07L408.37 1154.44L408.51 1153.72L408.63 1152.95L408.84 1152.21L409.31 1151.63L409.9 1151.22L410.53 1150.96L411.13 1150.84L411.7 1150.79L412.26 1150.72L412.8 1150.57L413.34 1150.31L413.87 1149.96L414.37 1149.54L414.82 1149.11L415.21 1148.73L415.54 1148.4L415.87 1148.11L416.24 1147.83L416.67 1147.54L417.15 1147.24L417.65 1146.93L418.11 1146.61L418.51 1146.3L418.83 1146.02L419.09 1145.75L419.32 1145.5L419.58 1145.2L419.95 1144.89L420.39 1144.64L420.88 1144.47L421.38 1144.4L421.87 1144.41L422.32 1144.47L422.72 1144.55L423.05 1144.6L423.31 1144.62" fill="none" stroke="#ff1414" stroke-width="1.65" stroke-linecap="round" stroke-linejoin="round"/><path d="M423.31 1144.62C424.38 1144.8 427.92 1144.8 429.69 1145.69C431.46 1146.57 433.23 1149.23 433.94 1149.94" fill="none" stroke="#1515f0" stroke-width="1.65" stroke-linecap="round" stroke-linejoin="round"/>
<path d="M418 1151.64C419.24 1151.71 423.31 1151.46 425.44 1152.06C427.56 1152.66 429.4 1154.19 430.75 1155.25C432.1 1156.31 433.05 1157.91 433.51 1158.44" fill="none" stroke="#1515f0" stroke-width="1.65" stroke-linecap="round" stroke-linejoin="round"/><path d="M433.51 1158.44L433.65 1158.76L433.88 1159.16L434.19 1159.6L434.59 1160.07L435.01 1160.59L435.36 1161.17L435.54 1161.85L435.56 1162.59L435.57 1163.31L435.62 1163.94L435.74 1164.51L435.96 1165.03L436.28 1165.53L436.69 1166L437.14 1166.45L437.57 1166.91L437.95 1167.36L438.25 1167.83L438.45 1168.32L438.58 1168.85L438.67 1169.42L438.75 1170.04L438.86 1170.67L439.04 1171.26L439.31 1171.79L439.67 1172.23L440.11 1172.57L440.6 1172.82L441.05 1173.04L441.43 1173.26L441.75 1173.46L442.03 1173.66L442.28 1173.84L442.5 1174.02L442.71 1174.19L442.91 1174.35L443.09 1174.48L443.25 1174.6L443.39 1174.71L443.5 1174.8" fill="none" stroke="#ff1414" stroke-width="1.65" stroke-linecap="round" stroke-linejoin="round"/><path d="M443.5 1174.8C444.56 1175.01 447.93 1176.08 449.88 1176.08C451.82 1176.08 453.77 1175.26 455.19 1174.8C456.6 1174.34 457.84 1173.56 458.38 1173.31" fill="none" stroke="#1515f0" stroke-width="1.65" stroke-linecap="round" stroke-linejoin="round"/>
<path d="M444.56 1160.14C445.45 1160.56 448.1 1162.09 449.88 1162.69C451.65 1163.29 453.42 1163.93 455.19 1163.75C456.96 1163.57 459.61 1161.98 460.5 1161.62" fill="none" stroke="#1515f0" stroke-width="1.65" stroke-linecap="round" stroke-linejoin="round"/><path d="M460.5 1161.62L460.71 1161.33L460.97 1160.93L461.28 1160.45L461.69 1159.97L462.22 1159.54L462.87 1159.19L463.57 1158.91L464.15 1158.57L464.61 1158.17L464.97 1157.74L465.33 1157.3L465.74 1156.85L466.22 1156.45L466.74 1156.12L467.28 1155.9L467.84 1155.81L468.41 1155.82L468.98 1155.88L469.58 1155.93L470.19 1155.91L470.8 1155.77L471.36 1155.49L471.83 1155.09L472.2 1154.57L472.47 1153.99L472.7 1153.38L472.94 1152.8L473.22 1152.28L473.6 1151.9L474.05 1151.65L474.51 1151.51L474.97 1151.44L475.4 1151.4L475.81 1151.37L476.18 1151.34L476.52 1151.29L476.82 1151.22L477.09 1151.15L477.32 1151.08L477.5 1151" fill="none" stroke="#ff1414" stroke-width="1.65" stroke-linecap="round" stroke-linejoin="round"/><path d="M477.5 1151C478.39 1151.35 481.22 1152.24 482.81 1153.12C484.41 1154.01 485.93 1155.14 487.06 1156.31C488.2 1157.48 489.19 1159.5 489.61 1160.14" fill="none" stroke="#1515f0" stroke-width="1.65" stroke-linecap="round" stroke-linejoin="round"/>
<path d="M478.56 1162.05C477.5 1162.05 474.14 1161.77 472.19 1162.05C470.24 1162.33 468.29 1162.94 466.88 1163.75C465.46 1164.56 464.22 1166.41 463.69 1166.94" fill="none" stroke="#1515f0" stroke-width="1.65" stroke-linecap="round" stroke-linejoin="round"/><path d="M463.69 1166.94L463.52 1167.21L463.26 1167.55L462.91 1167.91L462.47 1168.27L461.95 1168.63L461.43 1169.01L460.96 1169.46L460.67 1170.01L460.53 1170.61L460.48 1171.18L460.5 1171.67L460.56 1172.12L460.63 1172.54L460.66 1172.95L460.63 1173.37L460.53 1173.81L460.34 1174.25L460.07 1174.66L459.72 1175.04L459.3 1175.35L458.83 1175.62L458.35 1175.91L457.89 1176.29L457.48 1176.78L457.13 1177.38L456.83 1178.04L456.54 1178.67L456.25 1179.23L455.95 1179.67L455.66 1180.01L455.32 1180.29L454.96 1180.62L454.65 1181L454.41 1181.42L454.26 1181.84L454.17 1182.26L454.14 1182.64L454.14 1182.99L454.14 1183.28L454.12 1183.51" fill="none" stroke="#ff1414" stroke-width="1.65" stroke-linecap="round" stroke-linejoin="round"/><path d="M454.12 1183.51C453.24 1183.76 450.76 1184.93 448.81 1185C446.86 1185.07 444.21 1184.47 442.44 1183.94C440.67 1183.41 438.9 1182.17 438.19 1181.81" fill="none" stroke="#1515f0" stroke-width="1.65" stroke-linecap="round" stroke-linejoin="round"/>
<path d="M379.75 1180.75C379.75 1179.86 379.22 1177.03 379.75 1175.44C380.28 1173.84 381.8 1172.36 382.94 1171.19C384.07 1170.02 385.95 1168.89 386.55 1168.42" fill="none" stroke="#1515f0" stroke-width="1.65" stroke-linecap="round" stroke-linejoin="round"/><path d="M386.55 1168.42L386.78 1168.4L387.07 1168.37L387.43 1168.35L387.82 1168.34L388.24 1168.33L388.67 1168.31L389.1 1168.26L389.52 1168.17L389.95 1168.05L390.39 1167.93L390.86 1167.88L391.36 1167.92L391.83 1168.05L392.27 1168.27L392.66 1168.56L393 1168.91L393.32 1169.32L393.65 1169.75L394.05 1170.16L394.55 1170.52L395.13 1170.76L395.78 1170.83L396.45 1170.73L397.12 1170.46L397.78 1170.1L398.45 1169.76L399.12 1169.52L399.8 1169.45L400.45 1169.57L401.04 1169.82L401.57 1170.18L402.06 1170.58L402.56 1170.9L403.08 1171.12L403.61 1171.26L404.14 1171.37L404.63 1171.47L405.06 1171.59L405.4 1171.72L405.68 1171.83" fill="none" stroke="#ff1414" stroke-width="1.65" stroke-linecap="round" stroke-linejoin="round"/><path d="M405.68 1171.83C406.67 1171.72 409.75 1171.83 411.62 1171.19C413.5 1170.55 415.41 1169.31 416.94 1168C418.46 1166.69 420.12 1164.1 420.76 1163.33" fill="none" stroke="#1515f0" stroke-width="1.65" stroke-linecap="round" stroke-linejoin="round"/>
<path d="M363.18 1194.56C364.17 1194.56 367.25 1194.92 369.12 1194.56C371 1194.21 373.02 1193.32 374.44 1192.44C375.85 1191.55 377.09 1189.78 377.62 1189.25" fill="none" stroke="#1515f0" stroke-width="1.65" stroke-linecap="round" stroke-linejoin="round"/><path d="M377.62 1189.25L377.86 1188.89L378.14 1188.39L378.38 1187.77L378.54 1187.02L378.63 1186.18L378.79 1185.33L379.25 1184.61L379.9 1184.03L380.59 1183.55L381.18 1183.13L381.66 1182.74L382.05 1182.29L382.39 1181.76L382.68 1181.15L382.97 1180.53L383.27 1179.94L383.59 1179.43L383.95 1179.02L384.33 1178.69L384.74 1178.41L385.15 1178.1L385.56 1177.75L385.93 1177.35L386.23 1176.91L386.45 1176.46L386.58 1176.02L386.64 1175.61L386.64 1175.21L386.62 1174.82L386.66 1174.45L386.79 1174.1L387 1173.76L387.28 1173.48L387.6 1173.26L387.94 1173.09L388.28 1172.97L388.61 1172.88L388.89 1172.81L389.13 1172.74L389.31 1172.67" fill="none" stroke="#ff1414" stroke-width="1.65" stroke-linecap="round" stroke-linejoin="round"/><path d="M389.31 1172.67C390.38 1172.6 393.92 1172.14 395.69 1172.25C397.46 1172.36 398.7 1172.78 399.94 1173.31C401.18 1173.84 402.59 1175.08 403.12 1175.44" fill="none" stroke="#1515f0" stroke-width="1.65" stroke-linecap="round" stroke-linejoin="round"/>
<path d="M389.31 1190.31C389.67 1189.43 390.38 1186.59 391.44 1185C392.5 1183.41 393.92 1181.64 395.69 1180.75C397.46 1179.86 401 1179.86 402.06 1179.69" fill="none" stroke="#1515f0" stroke-width="1.65" stroke-linecap="round" stroke-linejoin="round"/><path d="M402.06 1179.69L402.45 1179.63L402.94 1179.51L403.52 1179.31L404.16 1179.06L404.86 1178.87L405.61 1178.85L406.4 1179.04L407.19 1179.23L407.93 1179.3L408.6 1179.2L409.18 1178.94L409.69 1178.54L410.14 1178.07L410.55 1177.57L410.97 1177.11L411.44 1176.73L411.95 1176.47L412.53 1176.33L413.13 1176.31L413.73 1176.4L414.32 1176.58L414.89 1176.78L415.47 1176.94L416.05 1176.99L416.64 1176.94L417.22 1176.76L417.78 1176.57L418.27 1176.44L418.7 1176.36L419.03 1176.31L419.29 1176.25L419.49 1176.19L419.64 1176.12L419.75 1176.03L419.85 1175.93L419.92 1175.82L419.98 1175.7L420.02 1175.59L420.07 1175.5L420.12 1175.44" fill="none" stroke="#ff1414" stroke-width="1.65" stroke-linecap="round" stroke-linejoin="round"/><path d="M420.12 1175.44C420.66 1174.91 422.43 1173.67 423.31 1172.25C424.2 1170.83 425.26 1168.6 425.44 1166.94C425.61 1165.27 424.55 1163.04 424.38 1162.26" fill="none" stroke="#1515f0" stroke-width="1.65" stroke-linecap="round" stroke-linejoin="round"/>
<path d="M370.19 1200.94C371.25 1201.4 374.44 1203.24 376.56 1203.7C378.69 1204.16 380.81 1204.27 382.94 1203.7C385.06 1203.13 388.25 1200.87 389.31 1200.3" fill="none" stroke="#1515f0" stroke-width="1.65" stroke-linecap="round" stroke-linejoin="round"/><path d="M389.31 1200.3L389.59 1199.98L389.95 1199.57L390.41 1199.11L390.99 1198.67L391.71 1198.31L392.51 1197.99L393.26 1197.59L393.79 1196.97L394.19 1196.24L394.53 1195.51L394.9 1194.85L395.36 1194.28L395.94 1193.87L396.63 1193.59L397.37 1193.41L398.11 1193.25L398.81 1193.02L399.4 1192.67L399.86 1192.21L400.21 1191.64L400.44 1191.02L400.58 1190.38L400.69 1189.77L400.84 1189.21L401.08 1188.7L401.42 1188.26L401.83 1187.89L402.3 1187.6L402.78 1187.4L403.23 1187.29L403.65 1187.23L404.06 1187.16L404.5 1187.07L404.97 1186.95L405.45 1186.84L405.93 1186.75L406.38 1186.7L406.78 1186.68L407.12 1186.69L407.38 1186.7" fill="none" stroke="#ff1414" stroke-width="1.65" stroke-linecap="round" stroke-linejoin="round"/><path d="M407.38 1186.7C408.44 1186.7 411.8 1186.98 413.75 1186.7C415.7 1186.42 417.65 1185.64 419.06 1185C420.48 1184.36 421.72 1183.23 422.25 1182.88" fill="none" stroke="#1515f0" stroke-width="1.65" stroke-linecap="round" stroke-linejoin="round"/>
<path d="M419.06 1187.76C419.77 1187.3 421.54 1185.53 423.31 1185C425.08 1184.47 427.81 1184.29 429.69 1184.58C431.56 1184.86 433.76 1186.35 434.57 1186.7" fill="none" stroke="#1515f0" stroke-width="1.65" stroke-linecap="round" stroke-linejoin="round"/><path d="M434.57 1186.7L434.93 1186.82L435.39 1187L435.9 1187.28L436.45 1187.66L437.03 1188.08L437.66 1188.44L438.36 1188.62L439.14 1188.65L439.9 1188.7L440.58 1188.85L441.17 1189.16L441.64 1189.61L441.97 1190.16L442.21 1190.79L442.38 1191.44L442.58 1192.08L442.86 1192.66L443.25 1193.16L443.76 1193.54L444.36 1193.78L445.02 1193.91L445.71 1193.97L446.38 1194.05L447.01 1194.2L447.58 1194.48L448.09 1194.86L448.54 1195.33L448.98 1195.75L449.39 1196.06L449.78 1196.28L450.13 1196.43L450.46 1196.52L450.76 1196.57L451.02 1196.6L451.25 1196.62L451.44 1196.64L451.61 1196.64L451.76 1196.65L451.89 1196.67L452 1196.69" fill="none" stroke="#ff1414" stroke-width="1.65" stroke-linecap="round" stroke-linejoin="round"/><path d="M452 1196.69C453.06 1196.51 456.78 1196.51 458.38 1195.62C459.97 1194.74 460.75 1192.97 461.56 1191.38C462.38 1189.78 462.98 1186.95 463.26 1186.06" fill="none" stroke="#1515f0" stroke-width="1.65" stroke-linecap="round" stroke-linejoin="round"/>
<path d="M396.75 1200.3C397.28 1199.7 398.52 1197.54 399.94 1196.69C401.35 1195.84 403.3 1195.66 405.25 1195.2C407.2 1194.74 410.56 1194.14 411.62 1193.92" fill="none" stroke="#1515f0" stroke-width="1.65" stroke-linecap="round" stroke-linejoin="round"/><path d="M411.62 1193.92L411.96 1193.82L412.39 1193.7L412.92 1193.57L413.49 1193.39L414.06 1193.11L414.59 1192.69L415.1 1192.16L415.64 1191.69L416.22 1191.37L416.82 1191.23L417.43 1191.25L418.03 1191.41L418.6 1191.67L419.15 1191.96L419.69 1192.21L420.23 1192.38L420.78 1192.44L421.32 1192.38L421.83 1192.22L422.28 1191.98L422.65 1191.68L422.94 1191.36L423.17 1191.04L423.4 1190.74L423.65 1190.46L423.93 1190.22L424.26 1190.03L424.64 1189.9L425.06 1189.86L425.47 1189.96L425.84 1190.19L426.14 1190.51L426.43 1190.85L426.74 1191.18L427.08 1191.47L427.44 1191.73L427.8 1191.96L428.14 1192.15L428.42 1192.32L428.62 1192.44" fill="none" stroke="#ff1414" stroke-width="1.65" stroke-linecap="round" stroke-linejoin="round"/><path d="M428.62 1192.44C429.33 1192.97 431.81 1194.39 432.88 1195.62C433.94 1196.86 434.54 1198.53 435 1199.88C435.46 1201.22 435.53 1203.06 435.64 1203.7" fill="none" stroke="#1515f0" stroke-width="1.65" stroke-linecap="round" stroke-linejoin="round"/>
<path d="M449.88 1196.69C450.76 1196.69 453.42 1197.04 455.19 1196.69C456.96 1196.33 458.91 1195.16 460.5 1194.56C462.09 1193.96 464.04 1193.32 464.75 1193.08" fill="none" stroke="#1515f0" stroke-width="1.65" stroke-linecap="round" stroke-linejoin="round"/><path d="M464.75 1193.08L465.02 1192.94L465.37 1192.75L465.76 1192.49L466.16 1192.16L466.55 1191.74L466.94 1191.26L467.34 1190.8L467.79 1190.4L468.3 1190.15L468.84 1190.03L469.38 1189.98L469.92 1189.97L470.44 1189.96L470.95 1189.92L471.43 1189.81L471.87 1189.62L472.28 1189.35L472.65 1189.01L472.97 1188.61L473.24 1188.17L473.48 1187.75L473.72 1187.35L473.97 1187L474.24 1186.7L474.53 1186.43L474.86 1186.19L475.24 1185.96L475.67 1185.73L476.16 1185.46L476.66 1185.14L477.17 1184.69L477.6 1184.08L477.86 1183.33L477.91 1182.46L477.91 1181.57L478.07 1180.77L478.37 1180.08L478.71 1179.5L479 1179L479.2 1178.62" fill="none" stroke="#ff1414" stroke-width="1.65" stroke-linecap="round" stroke-linejoin="round"/><path d="M475.38 1171.19C475.73 1171.9 477.22 1173.67 477.5 1175.44C477.78 1177.21 477.25 1180.22 477.07 1181.81C476.9 1183.41 476.54 1184.47 476.44 1185" fill="none" stroke="#1515f0" stroke-width="1.65" stroke-linecap="round" stroke-linejoin="round"/>
<path d="M484.94 1162.26C484.23 1163.22 481.64 1165.98 480.69 1168C479.73 1170.02 479.38 1172.6 479.2 1174.38C479.02 1176.15 479.55 1177.92 479.62 1178.62" fill="none" stroke="#1515f0" stroke-width="1.65" stroke-linecap="round" stroke-linejoin="round"/><path d="M479.62 1178.62L479.83 1178.93L480.14 1179.3L480.54 1179.71L480.98 1180.17L481.41 1180.71L481.73 1181.36L481.9 1182.1L481.97 1182.87L482.07 1183.56L482.25 1184.14L482.51 1184.67L482.85 1185.22L483.25 1185.81L483.63 1186.43L483.92 1187.07L484.07 1187.73L484.07 1188.38L483.94 1189.04L483.77 1189.71L483.63 1190.38L483.63 1191.06L483.78 1191.71L484.1 1192.28L484.54 1192.77L485.06 1193.18L485.58 1193.58L486.05 1194.01L486.4 1194.51L486.59 1195.08L486.58 1195.69L486.33 1196.27L485.87 1196.73L485.34 1197.12L484.82 1197.49L484.35 1197.91L483.95 1198.37L483.59 1198.84L483.28 1199.26L483.01 1199.61L482.81 1199.88" fill="none" stroke="#ff1414" stroke-width="1.65" stroke-linecap="round" stroke-linejoin="round"/><path d="M482.81 1199.88C482.46 1200.41 481.57 1202.18 480.69 1203.06C479.8 1203.95 478.46 1204.55 477.5 1205.19C476.54 1205.83 475.38 1206.6 474.95 1206.89" fill="none" stroke="#1515f0" stroke-width="1.65" stroke-linecap="round" stroke-linejoin="round"/>
<path d="M446.69 1214.75C447.04 1213.86 447.75 1210.92 448.81 1209.44C449.88 1207.95 451.47 1206.64 453.06 1205.83C454.66 1205.01 457.49 1204.76 458.38 1204.55" fill="none" stroke="#1515f0" stroke-width="1.65" stroke-linecap="round" stroke-linejoin="round"/><path d="M458.38 1204.55L458.76 1204.49L459.26 1204.43L459.86 1204.41L460.52 1204.5L461.23 1204.73L461.97 1205.04L462.72 1205.21L463.45 1205.14L464.14 1204.91L464.75 1204.6L465.31 1204.28L465.84 1203.99L466.37 1203.79L466.9 1203.67L467.45 1203.66L468 1203.74L468.56 1203.86L469.11 1204L469.64 1204.12L470.14 1204.2L470.62 1204.22L471.07 1204.16L471.52 1204.03L471.95 1203.84L472.37 1203.61L472.77 1203.37L473.15 1203.12L473.51 1202.89L473.85 1202.73L474.18 1202.62L474.51 1202.54L474.85 1202.46L475.21 1202.39L475.57 1202.3L475.91 1202.2L476.22 1202.08L476.5 1201.94L476.73 1201.8L476.92 1201.68L477.07 1201.58" fill="none" stroke="#ff1414" stroke-width="1.65" stroke-linecap="round" stroke-linejoin="round"/><path d="M477.07 1201.58C477.57 1201.01 479.34 1199.52 480.05 1198.17C480.76 1196.83 481.15 1194.99 481.32 1193.5C481.5 1192.01 481.15 1189.96 481.11 1189.25" fill="none" stroke="#1515f0" stroke-width="1.65" stroke-linecap="round" stroke-linejoin="round"/>
<path d="M491.95 1193.5C491.95 1194.56 492.41 1197.75 491.95 1199.88C491.49 1202 490.53 1204.23 489.19 1206.25C487.84 1208.27 484.76 1211.03 483.88 1211.99" fill="none" stroke="#1515f0" stroke-width="1.65" stroke-linecap="round" stroke-linejoin="round"/><path d="M483.88 1211.99L483.56 1212.23L483.13 1212.5L482.58 1212.76L481.94 1213.01L481.26 1213.31L480.64 1213.75L480.14 1214.36L479.74 1215.09L479.35 1215.74L478.94 1216.26L478.49 1216.65L477.97 1216.96L477.39 1217.23L476.78 1217.48L476.19 1217.75L475.65 1218.06L475.2 1218.44L474.83 1218.88L474.53 1219.4L474.24 1219.97L473.92 1220.58L473.53 1221.18L473.06 1221.69L472.47 1222.07L471.8 1222.29L471.09 1222.4L470.4 1222.45L469.77 1222.51L469.27 1222.65L468.87 1222.82L468.52 1222.99L468.17 1223.12L467.8 1223.21L467.43 1223.24L467.08 1223.22L466.75 1223.16L466.45 1223.07L466.2 1222.97L465.99 1222.88L465.81 1222.83" fill="none" stroke="#ff1414" stroke-width="1.65" stroke-linecap="round" stroke-linejoin="round"/><path d="M465.81 1222.83C464.93 1222.54 462.09 1221.94 460.5 1221.12C458.91 1220.31 457.24 1219 456.25 1217.94C455.26 1216.88 454.83 1215.28 454.55 1214.75" fill="none" stroke="#1515f0" stroke-width="1.65" stroke-linecap="round" stroke-linejoin="round"/>
<path d="M382.3 1211.14C383.11 1211.74 385.49 1213.97 387.19 1214.75C388.89 1215.53 390.73 1215.88 392.5 1215.81C394.27 1215.74 396.93 1214.57 397.81 1214.33" fill="none" stroke="#1515f0" stroke-width="1.65" stroke-linecap="round" stroke-linejoin="round"/><path d="M397.81 1214.33L398.16 1214.13L398.61 1213.88L399.15 1213.57L399.69 1213.17L400.19 1212.61L400.62 1211.92L401.07 1211.23L401.64 1210.72L402.3 1210.4L402.99 1210.25L403.66 1210.21L404.31 1210.22L404.92 1210.2L405.5 1210.1L406.04 1209.91L406.54 1209.6L407 1209.22L407.44 1208.79L407.85 1208.36L408.24 1207.96L408.63 1207.62L409.07 1207.35L409.55 1207.15L410.08 1207.01L410.63 1206.91L411.18 1206.83L411.7 1206.74L412.17 1206.64L412.55 1206.47L412.88 1206.26L413.19 1206.05L413.52 1205.83L413.86 1205.64L414.2 1205.47L414.55 1205.35L414.88 1205.27L415.18 1205.22L415.45 1205.2L415.69 1205.2L415.88 1205.19" fill="none" stroke="#ff1414" stroke-width="1.65" stroke-linecap="round" stroke-linejoin="round"/><path d="M415.88 1205.19C416.76 1205.54 419.7 1206.25 421.19 1207.31C422.68 1208.38 423.91 1210.32 424.8 1211.56C425.69 1212.8 426.22 1214.22 426.5 1214.75" fill="none" stroke="#1515f0" stroke-width="1.65" stroke-linecap="round" stroke-linejoin="round"/>
<path d="M407.38 1202C408.08 1201.58 410.03 1199.98 411.62 1199.45C413.22 1198.92 415.34 1198.81 416.94 1198.81C418.53 1198.81 420.48 1199.34 421.19 1199.45" fill="none" stroke="#1515f0" stroke-width="1.65" stroke-linecap="round" stroke-linejoin="round"/><path d="M421.19 1199.45L421.43 1199.62L421.76 1199.8L422.16 1199.98L422.64 1200.14L423.17 1200.28L423.75 1200.41L424.33 1200.6L424.87 1200.88L425.32 1201.3L425.61 1201.83L425.79 1202.42L425.9 1203.03L426.02 1203.63L426.22 1204.21L426.53 1204.74L426.97 1205.24L427.51 1205.69L428.09 1206.12L428.64 1206.54L429.1 1206.98L429.48 1207.5L429.75 1208.14L429.96 1208.86L430.15 1209.61L430.39 1210.33L430.74 1210.96L431.22 1211.46L431.8 1211.85L432.44 1212.18L433.05 1212.49L433.61 1212.84L434.04 1213.3L434.35 1213.86L434.59 1214.45L434.81 1215.02L435.05 1215.54L435.32 1215.99L435.59 1216.35L435.85 1216.65L436.06 1216.88" fill="none" stroke="#ff1414" stroke-width="1.65" stroke-linecap="round" stroke-linejoin="round"/><path d="M436.06 1216.88C436.95 1217.23 439.6 1218.82 441.38 1219C443.15 1219.18 444.92 1218.47 446.69 1217.94C448.46 1217.41 451.11 1216.17 452 1215.81" fill="none" stroke="#1515f0" stroke-width="1.65" stroke-linecap="round" stroke-linejoin="round"/>
<path d="M383.57 1224.95C384.35 1224.49 386.59 1222.9 388.25 1222.19C389.91 1221.48 391.86 1220.59 393.56 1220.7C395.26 1220.81 397.64 1222.47 398.45 1222.83" fill="none" stroke="#1515f0" stroke-width="1.65" stroke-linecap="round" stroke-linejoin="round"/><path d="M398.45 1222.83L398.74 1223.03L399.13 1223.28L399.61 1223.55L400.14 1223.86L400.66 1224.24L401.12 1224.76L401.49 1225.39L401.87 1226.04L402.31 1226.58L402.83 1226.96L403.42 1227.18L404.05 1227.25L404.71 1227.22L405.36 1227.14L406 1227.09L406.61 1227.14L407.18 1227.3L407.7 1227.6L408.14 1228.01L408.49 1228.48L408.75 1228.98L408.95 1229.48L409.15 1229.95L409.39 1230.38L409.69 1230.77L410.07 1231.12L410.5 1231.41L410.95 1231.66L411.39 1231.84L411.77 1231.98L412.12 1232.11L412.46 1232.25L412.79 1232.41L413.13 1232.58L413.46 1232.74L413.79 1232.9L414.1 1233.02L414.38 1233.11L414.62 1233.18L414.81 1233.24" fill="none" stroke="#ff1414" stroke-width="1.65" stroke-linecap="round" stroke-linejoin="round"/><path d="M414.81 1233.24C415.88 1232.99 419.42 1232.53 421.19 1231.75C422.96 1230.97 424.38 1229.8 425.44 1228.56C426.5 1227.32 427.21 1225.02 427.56 1224.31" fill="none" stroke="#1515f0" stroke-width="1.65" stroke-linecap="round" stroke-linejoin="round"/>
<path d="M410.56 1227.5C410.74 1226.61 410.74 1223.67 411.62 1222.19C412.51 1220.7 414.28 1219.53 415.88 1218.58C417.47 1217.62 420.3 1216.8 421.19 1216.45" fill="none" stroke="#1515f0" stroke-width="1.65" stroke-linecap="round" stroke-linejoin="round"/><path d="M421.19 1216.45L421.45 1216.49L421.79 1216.55L422.18 1216.62L422.61 1216.75L423.06 1216.94L423.51 1217.21L423.95 1217.55L424.36 1217.9L424.75 1218.23L425.16 1218.45L425.6 1218.6L426.09 1218.72L426.62 1218.84L427.18 1218.97L427.73 1219.14L428.25 1219.36L428.71 1219.65L429.11 1220.02L429.46 1220.47L429.79 1220.98L430.13 1221.53L430.51 1222.08L430.95 1222.57L431.48 1222.95L432.09 1223.19L432.76 1223.32L433.46 1223.39L434.14 1223.46L434.76 1223.59L435.3 1223.8L435.78 1224.11L436.19 1224.57L436.57 1225.07L436.96 1225.53L437.38 1225.92L437.81 1226.21L438.24 1226.43L438.64 1226.61L438.98 1226.75L439.25 1226.86" fill="none" stroke="#ff1414" stroke-width="1.65" stroke-linecap="round" stroke-linejoin="round"/><path d="M439.25 1226.86C440.14 1227.15 442.79 1228.53 444.56 1228.56C446.33 1228.6 448.03 1227.71 449.88 1227.08C451.72 1226.44 454.66 1225.13 455.61 1224.74" fill="none" stroke="#1515f0" stroke-width="1.65" stroke-linecap="round" stroke-linejoin="round"/>
<path d="M429.69 1228.14C429.86 1228.92 430.04 1231.5 430.75 1232.81C431.46 1234.12 432.7 1235.04 433.94 1236C435.18 1236.96 437.48 1238.12 438.19 1238.55" fill="none" stroke="#1515f0" stroke-width="1.65" stroke-linecap="round" stroke-linejoin="round"/><path d="M438.19 1238.55L438.44 1238.64L438.76 1238.79L439.13 1239.01L439.52 1239.29L439.95 1239.59L440.42 1239.87L440.93 1240.07L441.47 1240.14L441.99 1240.07L442.44 1239.85L442.8 1239.54L443.1 1239.2L443.4 1238.84L443.73 1238.51L444.13 1238.2L444.62 1237.95L445.17 1237.76L445.76 1237.62L446.34 1237.53L446.89 1237.45L447.41 1237.34L447.9 1237.16L448.36 1236.88L448.81 1236.52L449.25 1236.09L449.69 1235.65L450.15 1235.22L450.65 1234.87L451.2 1234.62L451.81 1234.48L452.52 1234.44L453.34 1234.47L454.2 1234.45L454.99 1234.22L455.67 1233.77L456.29 1233.25L456.89 1232.8L457.46 1232.49L457.97 1232.3L458.38 1232.17" fill="none" stroke="#ff1414" stroke-width="1.65" stroke-linecap="round" stroke-linejoin="round"/><path d="M458.38 1232.17C459.44 1232.1 462.98 1231.47 464.75 1231.75C466.52 1232.03 467.58 1232.99 469 1233.88C470.42 1234.76 472.54 1236.53 473.25 1237.06" fill="none" stroke="#1515f0" stroke-width="1.65" stroke-linecap="round" stroke-linejoin="round"/>
<path d="M411.38 953.4C412.1 954.62 413.91 959 415.75 960.75C417.59 962.5 421.29 963.38 422.4 963.9" fill="none" stroke="#1515f0" stroke-width="1.55" stroke-linecap="round" stroke-linejoin="round"/><path d="M422.4 963.9C423.04 963.96 425.32 964.63 426.25 964.25C427.18 963.87 426.54 962.21 428 961.62C429.46 961.04 433.25 961.48 435 960.75C436.75 960.02 437.19 957.98 438.5 957.25C439.81 956.52 442.15 956.52 442.88 956.38" fill="none" stroke="#ff1414" stroke-width="1.55" stroke-linecap="round" stroke-linejoin="round"/><path d="M442.88 956.38C443.9 956.08 447.1 954.48 449 954.62C450.9 954.77 452.56 956.29 454.25 957.25C455.94 958.21 458.33 959.88 459.15 960.4" fill="none" stroke="#1515f0" stroke-width="1.55" stroke-linecap="round" stroke-linejoin="round"/>
<path d="M430.62 969.5C431.06 968.62 431.35 965.65 433.25 964.25C435.15 962.85 440.54 961.62 442 961.1" fill="none" stroke="#1515f0" stroke-width="1.55" stroke-linecap="round" stroke-linejoin="round"/><path d="M442 961.1C442.73 961.04 445.35 960.28 446.38 960.75C447.4 961.22 446.81 963.17 448.12 963.9C449.44 964.63 452.65 964.19 454.25 965.12C455.85 966.06 456.44 968.48 457.75 969.5C459.06 970.52 461.4 970.96 462.12 971.25" fill="none" stroke="#ff1414" stroke-width="1.55" stroke-linecap="round" stroke-linejoin="round"/><path d="M462.12 971.25C463.15 971.54 466.35 973.06 468.25 973C470.15 972.94 471.9 971.63 473.5 970.9C475.1 970.17 477.15 969 477.88 968.62" fill="none" stroke="#1515f0" stroke-width="1.55" stroke-linecap="round" stroke-linejoin="round"/>
<path d="M407.52 971.25C408.6 971.98 412.05 974.75 414 975.62C415.95 976.5 417.56 976.56 419.25 976.5C420.94 976.44 423.33 975.48 424.15 975.27" fill="none" stroke="#1515f0" stroke-width="1.55" stroke-linecap="round" stroke-linejoin="round"/><path d="M424.15 975.27C424.94 975.04 427.5 974.69 428.88 973.88C430.25 973.06 430.77 971.1 432.38 970.38C433.98 969.65 437.04 970.08 438.5 969.5C439.96 968.92 440.1 967.17 441.12 966.88C442.15 966.58 444.04 967.6 444.62 967.75" fill="none" stroke="#ff1414" stroke-width="1.55" stroke-linecap="round" stroke-linejoin="round"/><path d="M444.62 967.75C445.65 968.33 449.15 969.94 450.75 971.25C452.35 972.56 453.52 974.46 454.25 975.62C454.98 976.79 454.98 977.81 455.12 978.25" fill="none" stroke="#1515f0" stroke-width="1.55" stroke-linecap="round" stroke-linejoin="round"/>
<path d="M373.23 972.65C373.37 973.88 373.58 977.9 374.1 980C374.62 982.1 375.32 983.79 376.38 985.25C377.43 986.71 379.73 988.17 380.4 988.75" fill="none" stroke="#1515f0" stroke-width="1.55" stroke-linecap="round" stroke-linejoin="round"/><path d="M380.4 988.75C381.04 989.19 382.88 990.94 384.25 991.38C385.62 991.81 387.17 990.65 388.62 991.38C390.08 992.1 391.54 994.88 393 995.75C394.46 996.62 396.35 995.9 397.38 996.62C398.4 997.35 398.83 999.54 399.12 1000.12" fill="none" stroke="#ff1414" stroke-width="1.55" stroke-linecap="round" stroke-linejoin="round"/><path d="M399.12 1000.12C399.27 1001.15 400 1004.21 400 1006.25C400 1008.29 399.62 1010.92 399.12 1012.38C398.63 1013.83 397.38 1014.56 397.02 1015" fill="none" stroke="#1515f0" stroke-width="1.55" stroke-linecap="round" stroke-linejoin="round"/>
<path d="M388.62 965.12C388.19 965.85 386.44 967.75 386 969.5C385.56 971.25 385.77 973.73 386 975.62C386.23 977.52 387.17 980 387.4 980.88" fill="none" stroke="#1515f0" stroke-width="1.55" stroke-linecap="round" stroke-linejoin="round"/><path d="M387.4 980.88C387.75 981.17 388.57 982.19 389.5 982.62C390.43 983.06 391.98 982.92 393 983.5C394.02 984.08 394.46 985.31 395.62 986.12C396.79 986.94 398.54 987.96 400 988.4C401.46 988.84 403.21 988.25 404.38 988.75C405.54 989.25 406.56 990.94 407 991.38" fill="none" stroke="#ff1414" stroke-width="1.55" stroke-linecap="round" stroke-linejoin="round"/><path d="M407 991.38C407.64 992.1 409.92 994.15 410.85 995.75C411.78 997.35 412.22 999.25 412.6 1001C412.98 1002.75 413.04 1005.38 413.12 1006.25" fill="none" stroke="#1515f0" stroke-width="1.55" stroke-linecap="round" stroke-linejoin="round"/>
<path d="M388.62 990.15C389.35 989.92 391.4 988.63 393 988.75C394.6 988.87 396.65 989.98 398.25 990.85C399.85 991.73 401.9 993.48 402.62 994" fill="none" stroke="#1515f0" stroke-width="1.55" stroke-linecap="round" stroke-linejoin="round"/><path d="M402.62 994C403.06 994.58 404.96 996.33 405.25 997.5C405.54 998.67 404.14 999.69 404.38 1001C404.61 1002.31 406.36 1003.77 406.65 1005.38C406.94 1006.98 406.07 1009.02 406.12 1010.62C406.18 1012.23 406.85 1014.27 407 1015" fill="none" stroke="#ff1414" stroke-width="1.55" stroke-linecap="round" stroke-linejoin="round"/><path d="M407 1015C407.29 1015.88 407.73 1018.65 408.75 1020.25C409.77 1021.85 411.43 1023.52 413.12 1024.62C414.82 1025.73 417.94 1026.52 418.9 1026.9" fill="none" stroke="#1515f0" stroke-width="1.55" stroke-linecap="round" stroke-linejoin="round"/>
<path d="M481.9 981.4C480.79 981.6 477.09 982.13 475.25 982.62C473.41 983.12 472.25 983.21 470.88 984.38C469.5 985.54 467.67 988.75 467.02 989.62" fill="none" stroke="#1515f0" stroke-width="1.55" stroke-linecap="round" stroke-linejoin="round"/><path d="M467.02 989.62C466.65 990.21 464.98 991.81 464.75 993.12C464.52 994.44 465.92 996.19 465.62 997.5C465.33 998.81 463.88 999.98 463 1001C462.12 1002.02 460.73 1002.6 460.38 1003.62C460.02 1004.65 461.34 1006.16 460.9 1007.12C460.46 1008.09 458.27 1009.02 457.75 1009.4" fill="none" stroke="#ff1414" stroke-width="1.55" stroke-linecap="round" stroke-linejoin="round"/><path d="M457.75 1009.4C456.88 1009.69 454.4 1010.86 452.5 1011.15C450.6 1011.44 448.04 1011.53 446.38 1011.15C444.71 1010.77 443.17 1009.25 442.52 1008.88" fill="none" stroke="#1515f0" stroke-width="1.55" stroke-linecap="round" stroke-linejoin="round"/>
<path d="M490.65 997.15C489.83 996.71 487.44 994.9 485.75 994.52C484.06 994.15 482.19 994.52 480.5 994.88C478.81 995.23 476.42 996.33 475.6 996.62" fill="none" stroke="#1515f0" stroke-width="1.55" stroke-linecap="round" stroke-linejoin="round"/><path d="M475.6 996.62C475.02 996.92 472.6 997.5 472.1 998.38C471.6 999.25 473.12 1000.71 472.62 1001.88C472.13 1003.04 470 1004.06 469.12 1005.38C468.25 1006.69 467.96 1008 467.38 1009.75C466.79 1011.5 465.92 1014.85 465.62 1015.88" fill="none" stroke="#ff1414" stroke-width="1.55" stroke-linecap="round" stroke-linejoin="round"/><path d="M465.62 1015.88C465.19 1016.6 464.31 1019 463 1020.25C461.69 1021.5 459.7 1022.61 457.75 1023.4C455.8 1024.19 452.35 1024.71 451.27 1024.97" fill="none" stroke="#1515f0" stroke-width="1.55" stroke-linecap="round" stroke-linejoin="round"/>
<path d="M465.62 998.38C465.92 999.1 467.23 1001.15 467.38 1002.75C467.52 1004.35 467.08 1006.4 466.5 1008C465.92 1009.6 464.31 1011.65 463.88 1012.38" fill="none" stroke="#1515f0" stroke-width="1.55" stroke-linecap="round" stroke-linejoin="round"/><path d="M463.88 1012.38C463.44 1012.96 462.42 1015.44 461.25 1015.88C460.08 1016.31 458.33 1014.8 456.88 1015C455.42 1015.2 454.1 1016.75 452.5 1017.1C450.9 1017.45 448.91 1016.87 447.25 1017.1C445.59 1017.33 443.31 1018.27 442.52 1018.5" fill="none" stroke="#ff1414" stroke-width="1.55" stroke-linecap="round" stroke-linejoin="round"/><path d="M442.52 1018.5C441.56 1018.85 438.21 1019.43 436.75 1020.6C435.29 1021.77 434.56 1023.66 433.77 1025.5C432.99 1027.34 432.32 1030.6 432.02 1031.62" fill="none" stroke="#1515f0" stroke-width="1.55" stroke-linecap="round" stroke-linejoin="round"/>
<path d="M536.15 1017.31C536.58 1017.71 538.36 1018.71 538.75 1019.73C539.14 1020.75 539.01 1022.46 538.49 1023.44C537.97 1024.42 536.1 1025.26 535.62 1025.62" fill="none" stroke="#1515f0" stroke-width="1.6" stroke-linecap="round" stroke-linejoin="round"/><path d="M535.62 1025.62C534.92 1025.09 533.01 1021.97 531.38 1022.44C529.74 1022.91 527.37 1027.75 525.81 1028.43C524.25 1029.1 523.25 1027.64 522.04 1026.51C520.83 1025.39 519.52 1021.51 518.56 1021.68C517.6 1021.85 517.16 1026.62 516.29 1027.55C515.43 1028.48 514.05 1028.68 513.37 1027.26C512.7 1025.83 512.44 1020.38 512.25 1019" fill="none" stroke="#ff1414" stroke-width="1.6" stroke-linecap="round" stroke-linejoin="round"/><path d="M512.25 1019C512.44 1018.38 512.57 1016.25 513.37 1015.26C514.17 1014.27 515.52 1013.24 517.03 1013.04C518.53 1012.85 520.82 1013.68 522.42 1014.1C524.02 1014.53 525.32 1015.31 526.64 1015.6C527.96 1015.9 529.73 1015.82 530.35 1015.87" fill="none" stroke="#1515f0" stroke-width="1.6" stroke-linecap="round" stroke-linejoin="round"/>
<path d="M497.94 1052.97C497.37 1052.83 495.38 1052.84 494.55 1052.16C493.73 1051.48 493.02 1049.96 492.99 1048.87C492.96 1047.78 494.14 1046.17 494.38 1045.62" fill="none" stroke="#1515f0" stroke-width="1.6" stroke-linecap="round" stroke-linejoin="round"/><path d="M494.38 1045.62C495.23 1045.74 498.36 1047.48 499.53 1046.29C500.7 1045.11 500.39 1039.83 501.39 1038.5C502.39 1037.17 503.96 1037.94 505.53 1038.32C507.1 1038.69 510.09 1041.37 510.83 1040.76C511.56 1040.15 509.64 1035.87 509.93 1034.66C510.22 1033.45 511.3 1032.61 512.56 1033.5C513.82 1034.39 516.68 1038.92 517.5 1040" fill="none" stroke="#ff1414" stroke-width="1.6" stroke-linecap="round" stroke-linejoin="round"/><path d="M517.5 1040C517.64 1040.62 518.55 1042.5 518.35 1043.73C518.15 1044.96 517.49 1046.49 516.3 1047.38C515.11 1048.27 512.76 1048.67 511.19 1049.08C509.62 1049.49 508.14 1049.45 506.87 1049.83C505.6 1050.22 504.13 1051.14 503.58 1051.4" fill="none" stroke="#1515f0" stroke-width="1.6" stroke-linecap="round" stroke-linejoin="round"/>
<path d="M546.59 1054.31C546.11 1054.69 544.81 1056.37 543.71 1056.61C542.6 1056.85 540.86 1056.46 539.93 1055.77C539 1055.09 538.43 1053.05 538.12 1052.5" fill="none" stroke="#1515f0" stroke-width="1.6" stroke-linecap="round" stroke-linejoin="round"/><path d="M538.12 1052.5C538.78 1051.85 542.27 1050.38 542.04 1048.62C541.82 1046.87 537.21 1043.69 536.75 1041.99C536.29 1040.29 537.95 1039.48 539.29 1038.41C540.63 1037.34 544.81 1036.58 544.78 1035.57C544.75 1034.56 539.93 1033.38 539.1 1032.35C538.28 1031.32 538.28 1029.87 539.85 1029.39C541.41 1028.92 547.06 1029.48 548.5 1029.5" fill="none" stroke="#ff1414" stroke-width="1.6" stroke-linecap="round" stroke-linejoin="round"/><path d="M548.5 1029.5C549.11 1029.79 551.27 1030.25 552.17 1031.22C553.07 1032.19 553.92 1033.74 553.89 1035.32C553.86 1036.89 552.66 1039.11 551.98 1040.69C551.29 1042.27 550.29 1043.48 549.79 1044.8C549.29 1046.11 549.09 1047.94 548.95 1048.57" fill="none" stroke="#1515f0" stroke-width="1.6" stroke-linecap="round" stroke-linejoin="round"/>
<path d="M517.49 1056.91C517.48 1056.27 516.97 1054.16 517.48 1053.11C518 1052.06 519.43 1050.91 520.58 1050.61C521.72 1050.3 523.74 1051.14 524.38 1051.25" fill="none" stroke="#1515f0" stroke-width="1.6" stroke-linecap="round" stroke-linejoin="round"/><path d="M524.38 1051.25C524.48 1052.19 523.42 1055.96 524.98 1056.9C526.54 1057.84 532.06 1056.16 533.73 1056.89C535.4 1057.61 534.98 1059.47 534.98 1061.23C534.99 1063 532.91 1066.86 533.74 1067.48C534.58 1068.1 538.63 1064.98 539.99 1064.97C541.34 1064.97 542.51 1065.9 541.89 1067.47C541.27 1069.04 537.19 1073.22 536.25 1074.38" fill="none" stroke="#ff1414" stroke-width="1.6" stroke-linecap="round" stroke-linejoin="round"/><path d="M536.25 1074.38C535.63 1074.68 533.86 1076.13 532.5 1076.23C531.15 1076.33 529.36 1076.02 528.1 1074.99C526.85 1073.95 525.83 1071.56 525 1069.99C524.16 1068.43 523.83 1066.84 523.09 1065.6C522.36 1064.35 521.01 1063.02 520.59 1062.5" fill="none" stroke="#1515f0" stroke-width="1.6" stroke-linecap="round" stroke-linejoin="round"/>
<path d="M166.53 1080.68C166.52 1080.03 165.93 1077.86 166.44 1076.77C166.95 1075.68 168.4 1074.47 169.57 1074.12C170.75 1073.78 172.85 1074.6 173.5 1074.7" fill="none" stroke="#1515f0" stroke-width="1.6" stroke-linecap="round" stroke-linejoin="round"/><path d="M173.5 1074.7C173.63 1075.67 172.63 1079.57 174.25 1080.5C175.88 1081.43 181.53 1079.59 183.26 1080.29C184.99 1081 184.61 1082.92 184.65 1084.74C184.69 1086.56 182.64 1090.58 183.51 1091.21C184.38 1091.83 188.49 1088.52 189.89 1088.48C191.29 1088.45 192.51 1089.38 191.9 1091.01C191.3 1092.64 187.19 1097.04 186.25 1098.25" fill="none" stroke="#ff1414" stroke-width="1.6" stroke-linecap="round" stroke-linejoin="round"/><path d="M186.25 1098.25C185.61 1098.58 183.83 1100.11 182.43 1100.24C181.04 1100.38 179.19 1100.1 177.87 1099.06C176.56 1098.02 175.46 1095.58 174.56 1093.99C173.67 1092.4 173.29 1090.77 172.5 1089.5C171.72 1088.23 170.3 1086.89 169.86 1086.37" fill="none" stroke="#1515f0" stroke-width="1.6" stroke-linecap="round" stroke-linejoin="round"/>
<path d="M219.09 1076C219.73 1076.03 221.9 1075.6 222.94 1076.17C223.98 1076.75 225.07 1078.25 225.33 1079.43C225.59 1080.61 224.64 1082.61 224.5 1083.25" fill="none" stroke="#1515f0" stroke-width="1.6" stroke-linecap="round" stroke-linejoin="round"/><path d="M224.5 1083.25C223.54 1083.31 219.77 1082.06 218.75 1083.6C217.72 1085.14 219.16 1090.81 218.35 1092.47C217.54 1094.12 215.67 1093.62 213.88 1093.53C212.09 1093.45 208.28 1091.17 207.61 1091.98C206.93 1092.8 209.92 1097.05 209.85 1098.43C209.79 1099.81 208.79 1100.95 207.23 1100.24C205.67 1099.54 201.62 1095.21 200.5 1094.2" fill="none" stroke="#ff1414" stroke-width="1.6" stroke-linecap="round" stroke-linejoin="round"/><path d="M200.5 1094.2C200.22 1093.55 198.84 1091.7 198.8 1090.32C198.76 1088.93 199.15 1087.13 200.26 1085.91C201.38 1084.69 203.85 1083.77 205.47 1083C207.1 1082.23 208.72 1081.96 210.02 1081.28C211.32 1080.59 212.73 1079.28 213.27 1078.89" fill="none" stroke="#1515f0" stroke-width="1.6" stroke-linecap="round" stroke-linejoin="round"/>
<path d="M144.11 1113.92C143.5 1113.75 141.32 1113.68 140.44 1112.9C139.57 1112.12 138.85 1110.43 138.86 1109.24C138.87 1108.05 140.23 1106.33 140.5 1105.75" fill="none" stroke="#1515f0" stroke-width="1.6" stroke-linecap="round" stroke-linejoin="round"/><path d="M140.5 1105.75C141.44 1105.91 144.79 1107.93 146.11 1106.68C147.44 1105.43 147.3 1099.65 148.45 1098.24C149.59 1096.82 151.27 1097.72 152.98 1098.19C154.68 1098.67 157.85 1101.71 158.68 1101.07C159.5 1100.43 157.57 1095.68 157.93 1094.37C158.3 1093.06 159.51 1092.18 160.85 1093.21C162.2 1094.23 165.14 1099.28 166 1100.5" fill="none" stroke="#ff1414" stroke-width="1.6" stroke-linecap="round" stroke-linejoin="round"/><path d="M166 1100.5C166.13 1101.19 167.05 1103.27 166.78 1104.61C166.52 1105.95 165.74 1107.6 164.4 1108.52C163.06 1109.45 160.48 1109.79 158.75 1110.18C157.02 1110.56 155.4 1110.46 154 1110.84C152.6 1111.21 150.95 1112.16 150.34 1112.42" fill="none" stroke="#1515f0" stroke-width="1.6" stroke-linecap="round" stroke-linejoin="round"/>
<path d="M145.33 1143.27C144.71 1143.09 142.51 1143.02 141.62 1142.23C140.74 1141.44 140.02 1139.73 140.03 1138.53C140.04 1137.32 141.42 1135.59 141.7 1135" fill="none" stroke="#1515f0" stroke-width="1.6" stroke-linecap="round" stroke-linejoin="round"/><path d="M141.7 1135C142.65 1135.16 146.03 1137.22 147.37 1135.95C148.72 1134.69 148.59 1128.85 149.76 1127.42C150.92 1125.99 152.61 1126.91 154.34 1127.39C156.06 1127.87 159.25 1130.95 160.09 1130.31C160.93 1129.67 158.99 1124.86 159.36 1123.53C159.73 1122.21 160.95 1121.33 162.31 1122.36C163.67 1123.4 166.64 1128.52 167.5 1129.75" fill="none" stroke="#ff1414" stroke-width="1.6" stroke-linecap="round" stroke-linejoin="round"/><path d="M167.5 1129.75C167.63 1130.44 168.56 1132.56 168.28 1133.91C168.01 1135.26 167.22 1136.93 165.87 1137.86C164.51 1138.8 161.9 1139.14 160.15 1139.52C158.39 1139.91 156.76 1139.8 155.34 1140.18C153.92 1140.55 152.25 1141.5 151.63 1141.77" fill="none" stroke="#1515f0" stroke-width="1.6" stroke-linecap="round" stroke-linejoin="round"/>
<path d="M179.88 1118.81C179.87 1118.15 179.3 1115.95 179.82 1114.84C180.34 1113.74 181.82 1112.52 183.02 1112.18C184.22 1111.84 186.34 1112.7 187 1112.8" fill="none" stroke="#1515f0" stroke-width="1.6" stroke-linecap="round" stroke-linejoin="round"/><path d="M187 1112.8C187.12 1113.78 186.07 1117.73 187.72 1118.69C189.36 1119.65 195.11 1117.82 196.86 1118.55C198.61 1119.29 198.21 1121.23 198.23 1123.08C198.26 1124.93 196.15 1128.99 197.03 1129.63C197.91 1130.27 202.1 1126.94 203.52 1126.92C204.94 1126.9 206.17 1127.85 205.54 1129.5C204.92 1131.15 200.72 1135.58 199.75 1136.8" fill="none" stroke="#ff1414" stroke-width="1.6" stroke-linecap="round" stroke-linejoin="round"/><path d="M199.75 1136.8C199.1 1137.13 197.28 1138.67 195.86 1138.79C194.44 1138.92 192.57 1138.63 191.24 1137.56C189.92 1136.49 188.82 1134.01 187.93 1132.38C187.03 1130.76 186.66 1129.11 185.87 1127.81C185.08 1126.52 183.65 1125.15 183.21 1124.62" fill="none" stroke="#1515f0" stroke-width="1.6" stroke-linecap="round" stroke-linejoin="round"/>
<path d="M217.21 1112.44C216.61 1112.17 214.38 1111.77 213.6 1110.84C212.82 1109.9 212.34 1108.06 212.53 1106.84C212.72 1105.61 214.38 1104.06 214.75 1103.5" fill="none" stroke="#1515f0" stroke-width="1.6" stroke-linecap="round" stroke-linejoin="round"/><path d="M214.75 1103.5C215.69 1103.8 218.82 1106.4 220.37 1105.31C221.93 1104.23 222.67 1098.27 224.06 1097C225.45 1095.72 227.05 1096.9 228.72 1097.64C230.4 1098.39 233.19 1101.99 234.14 1101.47C235.08 1100.94 233.82 1095.76 234.4 1094.47C234.97 1093.18 236.35 1092.47 237.57 1093.72C238.8 1094.97 241.05 1100.62 241.75 1102" fill="none" stroke="#ff1414" stroke-width="1.6" stroke-linecap="round" stroke-linejoin="round"/><path d="M241.75 1102C241.78 1102.72 242.4 1105.01 241.93 1106.34C241.45 1107.68 240.4 1109.25 238.88 1110C237.37 1110.75 234.66 1110.71 232.82 1110.84C230.98 1110.97 229.34 1110.62 227.84 1110.79C226.34 1110.96 224.51 1111.68 223.84 1111.86" fill="none" stroke="#1515f0" stroke-width="1.6" stroke-linecap="round" stroke-linejoin="round"/>
<path d="M168.47 1170.64C167.83 1170.78 165.82 1171.79 164.65 1171.51C163.48 1171.23 162 1170.06 161.42 1168.97C160.85 1167.89 161.24 1165.66 161.2 1165" fill="none" stroke="#1515f0" stroke-width="1.6" stroke-linecap="round" stroke-linejoin="round"/><path d="M161.2 1165C162.12 1164.68 166.16 1164.88 166.74 1163.09C167.33 1161.31 164.38 1156.14 164.73 1154.3C165.07 1152.45 167.04 1152.44 168.81 1152.04C170.59 1151.63 174.95 1152.84 175.39 1151.85C175.82 1150.87 171.75 1147.51 171.43 1146.14C171.12 1144.78 171.79 1143.39 173.51 1143.66C175.23 1143.93 180.38 1147.07 181.75 1147.75" fill="none" stroke="#ff1414" stroke-width="1.6" stroke-linecap="round" stroke-linejoin="round"/><path d="M181.75 1147.75C182.2 1148.31 184.06 1149.75 184.47 1151.09C184.89 1152.44 184.99 1154.31 184.23 1155.81C183.47 1157.3 181.3 1158.88 179.92 1160.08C178.53 1161.28 177.02 1161.98 175.93 1163C174.84 1164.03 173.81 1165.69 173.39 1166.23" fill="none" stroke="#1515f0" stroke-width="1.6" stroke-linecap="round" stroke-linejoin="round"/>
<path d="M213.7 1131.04C213.39 1130.49 211.9 1128.88 211.84 1127.7C211.78 1126.53 212.48 1124.82 213.34 1123.99C214.2 1123.15 216.39 1122.91 217 1122.7" fill="none" stroke="#1515f0" stroke-width="1.6" stroke-linecap="round" stroke-linejoin="round"/><path d="M217 1122.7C217.55 1123.48 218.46 1127.31 220.29 1127.37C222.12 1127.44 226.17 1123.27 227.99 1123.09C229.81 1122.91 230.35 1124.75 231.21 1126.3C232.08 1127.85 232.14 1132.27 233.17 1132.41C234.21 1132.55 236.25 1127.82 237.44 1127.15C238.64 1126.49 240.12 1126.74 240.34 1128.42C240.56 1130.1 239.01 1135.78 238.75 1137.25" fill="none" stroke="#ff1414" stroke-width="1.6" stroke-linecap="round" stroke-linejoin="round"/><path d="M238.75 1137.25C238.35 1137.83 237.5 1139.96 236.36 1140.71C235.21 1141.46 233.49 1142.07 231.88 1141.77C230.27 1141.46 228.21 1139.86 226.71 1138.89C225.21 1137.92 224.14 1136.69 222.88 1135.95C221.63 1135.21 219.79 1134.7 219.17 1134.45" fill="none" stroke="#1515f0" stroke-width="1.6" stroke-linecap="round" stroke-linejoin="round"/>
<path d="M198.1 1152.36C198 1151.71 197.14 1149.63 197.5 1148.48C197.86 1147.33 199.14 1145.93 200.27 1145.44C201.39 1144.94 203.59 1145.49 204.25 1145.5" fill="none" stroke="#1515f0" stroke-width="1.6" stroke-linecap="round" stroke-linejoin="round"/><path d="M204.25 1145.5C204.5 1146.45 204.02 1150.46 205.76 1151.17C207.49 1151.89 212.87 1149.31 214.68 1149.79C216.5 1150.26 216.37 1152.23 216.65 1154.03C216.93 1155.83 215.41 1160.1 216.36 1160.6C217.31 1161.11 220.96 1157.28 222.34 1157.07C223.73 1156.85 225.07 1157.62 224.67 1159.32C224.28 1161.01 220.78 1165.93 220 1167.25" fill="none" stroke="#ff1414" stroke-width="1.6" stroke-linecap="round" stroke-linejoin="round"/><path d="M220 1167.25C219.41 1167.66 217.84 1169.41 216.47 1169.73C215.1 1170.05 213.22 1170.02 211.78 1169.15C210.34 1168.28 208.92 1166 207.83 1164.54C206.73 1163.07 206.14 1161.51 205.19 1160.35C204.25 1159.19 202.66 1158.04 202.15 1157.58" fill="none" stroke="#1515f0" stroke-width="1.6" stroke-linecap="round" stroke-linejoin="round"/>
<path d="M582.88 1167.12C583.75 1166.56 586.47 1164.56 588.12 1163.75C589.78 1162.94 590.94 1162.09 592.81 1162.25C594.69 1162.41 598.28 1164.28 599.38 1164.69" fill="none" stroke="#1515f0" stroke-width="1.55" stroke-linecap="round" stroke-linejoin="round"/>
<path d="M599.38 1164.69L599.62 1164.77L599.94 1164.9L600.31 1165.05L600.72 1165.21L601.18 1165.33L601.7 1165.35L602.25 1165.33L602.82 1165.36L603.33 1165.53L603.71 1165.91L603.91 1166.45L604.01 1167.05L604.14 1167.6L604.44 1168.04L604.95 1168.37L605.58 1168.62L606.17 1168.88L606.59 1169.22L606.83 1169.66L606.98 1170.19L607.16 1170.75L607.43 1171.25L607.8 1171.6L608.28 1171.76L608.82 1171.75L609.38 1171.66L609.92 1171.6L610.42 1171.65L610.84 1171.88L611.17 1172.27L611.41 1172.77L611.61 1173.29L611.84 1173.74L612.16 1174.07L612.6 1174.27L613.12 1174.34L613.66 1174.34L614.15 1174.33L614.56 1174.37L614.89 1174.53L615.23 1174.79L615.65 1175.09L616.14 1175.33L616.65 1175.43L617.15 1175.38L617.63 1175.24L618.07 1175.11L618.47 1175.02L618.8 1174.99L619.06 1175" fill="none" stroke="#ff1414" stroke-width="1.55" stroke-linecap="round" stroke-linejoin="round"/>
<path d="M591.05 1174.53C591.92 1173.97 594.64 1171.97 596.3 1171.16C597.96 1170.34 599.11 1169.5 600.99 1169.66C602.86 1169.81 606.46 1171.69 607.55 1172.09" fill="none" stroke="#1515f0" stroke-width="1.55" stroke-linecap="round" stroke-linejoin="round"/>
<path d="M607.55 1172.09L607.79 1172.2L608.11 1172.32L608.48 1172.45L608.92 1172.53L609.41 1172.55L609.95 1172.54L610.49 1172.58L610.98 1172.78L611.37 1173.16L611.62 1173.66L611.77 1174.18L611.97 1174.64L612.34 1174.99L612.88 1175.26L613.51 1175.51L614.07 1175.81L614.44 1176.22L614.61 1176.75L614.7 1177.36L614.85 1177.95L615.13 1178.44L615.55 1178.74L616.07 1178.84L616.63 1178.81L617.19 1178.73L617.71 1178.71L618.17 1178.84L618.55 1179.14L618.86 1179.58L619.11 1180.08L619.34 1180.55L619.62 1180.92L620 1181.16L620.49 1181.28L621.04 1181.33L621.57 1181.36L622.04 1181.43L622.41 1181.59L622.7 1181.86L622.98 1182.22L623.34 1182.57L623.8 1182.84L624.31 1182.92L624.82 1182.84L625.32 1182.67L625.79 1182.51L626.24 1182.41L626.64 1182.38L626.98 1182.39L627.24 1182.41" fill="none" stroke="#ff1414" stroke-width="1.55" stroke-linecap="round" stroke-linejoin="round"/>
<path d="M599.23 1181.94C600.1 1181.38 602.82 1179.38 604.48 1178.56C606.13 1177.75 607.29 1176.91 609.16 1177.06C611.04 1177.22 614.63 1179.09 615.73 1179.5" fill="none" stroke="#1515f0" stroke-width="1.55" stroke-linecap="round" stroke-linejoin="round"/>
<path d="M615.73 1179.5L615.97 1179.6L616.29 1179.7L616.68 1179.77L617.13 1179.79L617.63 1179.8L618.14 1179.87L618.63 1180.08L619.03 1180.45L619.34 1180.92L619.58 1181.36L619.83 1181.71L620.25 1181.95L620.82 1182.16L621.45 1182.39L621.97 1182.72L622.28 1183.19L622.39 1183.79L622.43 1184.45L622.56 1185.07L622.87 1185.54L623.33 1185.81L623.89 1185.88L624.47 1185.85L625.01 1185.81L625.49 1185.87L625.9 1186.09L626.25 1186.46L626.54 1186.94L626.81 1187.41L627.09 1187.8L627.43 1188.07L627.87 1188.22L628.4 1188.28L628.96 1188.32L629.47 1188.39L629.89 1188.56L630.21 1188.84L630.46 1189.22L630.71 1189.65L631.03 1190.05L631.46 1190.31L631.96 1190.37L632.48 1190.26L632.99 1190.06L633.49 1189.88L633.96 1189.79L634.41 1189.77L634.81 1189.79L635.15 1189.8L635.41 1189.81" fill="none" stroke="#ff1414" stroke-width="1.55" stroke-linecap="round" stroke-linejoin="round"/>
<path d="M607.4 1189.34C608.27 1188.78 610.99 1186.78 612.65 1185.97C614.31 1185.16 615.46 1184.31 617.34 1184.47C619.21 1184.62 622.81 1186.5 623.9 1186.91" fill="none" stroke="#1515f0" stroke-width="1.55" stroke-linecap="round" stroke-linejoin="round"/>
<path d="M623.9 1186.91L624.15 1186.99L624.48 1187.05L624.88 1187.08L625.33 1187.11L625.81 1187.2L626.28 1187.4L626.7 1187.75L627.07 1188.16L627.4 1188.54L627.74 1188.79L628.18 1188.93L628.76 1189.07L629.36 1189.29L629.84 1189.64L630.09 1190.16L630.16 1190.8L630.18 1191.48L630.31 1192.09L630.65 1192.55L631.16 1192.81L631.74 1192.89L632.32 1192.88L632.83 1192.91L633.26 1193.07L633.62 1193.38L633.93 1193.82L634.22 1194.3L634.53 1194.73L634.87 1195.04L635.27 1195.2L635.76 1195.26L636.31 1195.27L636.86 1195.31L637.34 1195.45L637.71 1195.71L637.97 1196.1L638.18 1196.56L638.41 1197.04L638.71 1197.46L639.13 1197.7L639.63 1197.74L640.15 1197.6L640.66 1197.39L641.16 1197.22L641.65 1197.15L642.13 1197.17L642.59 1197.22L642.99 1197.24L643.33 1197.24L643.59 1197.22" fill="none" stroke="#ff1414" stroke-width="1.55" stroke-linecap="round" stroke-linejoin="round"/>
<path d="M615.58 1196.75C616.45 1196.19 619.17 1194.19 620.83 1193.38C622.48 1192.56 623.64 1191.72 625.51 1191.88C627.39 1192.03 630.98 1193.91 632.08 1194.31" fill="none" stroke="#1515f0" stroke-width="1.55" stroke-linecap="round" stroke-linejoin="round"/>
<path d="M632.08 1194.31L632.33 1194.37L632.66 1194.41L633.06 1194.46L633.5 1194.55L633.94 1194.75L634.37 1195.05L634.78 1195.39L635.19 1195.69L635.62 1195.86L636.11 1195.93L636.69 1196L637.25 1196.2L637.68 1196.58L637.89 1197.13L637.93 1197.8L637.95 1198.48L638.1 1199.07L638.48 1199.51L639.03 1199.76L639.63 1199.87L640.18 1199.93L640.64 1200.05L641.01 1200.3L641.32 1200.7L641.61 1201.18L641.91 1201.65L642.25 1202.02L642.65 1202.24L643.12 1202.3L643.64 1202.28L644.2 1202.27L644.73 1202.34L645.17 1202.55L645.49 1202.9L645.71 1203.36L645.89 1203.87L646.11 1204.36L646.42 1204.75L646.84 1204.97L647.34 1204.99L647.86 1204.85L648.36 1204.66L648.84 1204.53L649.33 1204.51L649.83 1204.59L650.32 1204.68L650.77 1204.73L651.17 1204.71L651.51 1204.66L651.76 1204.62" fill="none" stroke="#ff1414" stroke-width="1.55" stroke-linecap="round" stroke-linejoin="round"/>
<path d="M623.75 1204.16C624.62 1203.59 627.34 1201.59 629 1200.78C630.66 1199.97 631.81 1199.12 633.69 1199.28C635.56 1199.44 639.16 1201.31 640.25 1201.72" fill="none" stroke="#1515f0" stroke-width="1.55" stroke-linecap="round" stroke-linejoin="round"/>
<path d="M640.25 1201.72L640.51 1201.77L640.84 1201.82L641.22 1201.92L641.64 1202.09L642.06 1202.34L642.5 1202.62L642.94 1202.83L643.43 1202.94L643.98 1202.95L644.56 1202.98L645.1 1203.16L645.48 1203.56L645.67 1204.13L645.7 1204.8L645.74 1205.46L645.93 1206.02L646.35 1206.42L646.94 1206.68L647.55 1206.84L648.06 1206.98L648.45 1207.2L648.75 1207.56L649.01 1208.02L649.28 1208.53L649.6 1208.97L649.99 1209.27L650.44 1209.39L650.96 1209.38L651.51 1209.31L652.06 1209.29L652.56 1209.4L652.95 1209.68L653.23 1210.11L653.41 1210.62L653.59 1211.15L653.83 1211.61L654.17 1211.94L654.62 1212.11L655.13 1212.11L655.63 1212L656.1 1211.87L656.55 1211.81L657.02 1211.88L657.51 1212.03L658.01 1212.17L658.5 1212.24L658.95 1212.21L659.35 1212.14L659.68 1212.07L659.94 1212.03" fill="none" stroke="#ff1414" stroke-width="1.55" stroke-linecap="round" stroke-linejoin="round"/>
<path d="M631.92 1211.56C632.8 1211 635.52 1209 637.17 1208.19C638.83 1207.38 639.99 1206.53 641.86 1206.69C643.74 1206.84 647.33 1208.72 648.42 1209.12" fill="none" stroke="#1515f0" stroke-width="1.55" stroke-linecap="round" stroke-linejoin="round"/>
<path d="M648.42 1209.12L648.68 1209.19L649 1209.28L649.37 1209.42L649.78 1209.62L650.21 1209.83L650.68 1209.99L651.2 1210.04L651.76 1210.03L652.34 1210.04L652.86 1210.21L653.24 1210.6L653.41 1211.18L653.47 1211.83L653.54 1212.44L653.79 1212.95L654.26 1213.32L654.87 1213.58L655.48 1213.79L655.95 1214.03L656.26 1214.37L656.48 1214.81L656.7 1215.33L656.96 1215.84L657.31 1216.24L657.74 1216.46L658.24 1216.51L658.78 1216.44L659.34 1216.36L659.87 1216.36L660.33 1216.53L660.69 1216.87L660.94 1217.35L661.12 1217.88L661.31 1218.38L661.59 1218.79L661.98 1219.05L662.47 1219.16L662.99 1219.15L663.49 1219.08L663.92 1219.04L664.31 1219.08L664.72 1219.25L665.19 1219.48L665.69 1219.67L666.2 1219.76L666.68 1219.72L667.13 1219.62L667.52 1219.52L667.85 1219.45L668.11 1219.44" fill="none" stroke="#ff1414" stroke-width="1.55" stroke-linecap="round" stroke-linejoin="round"/>
<path d="M640.1 1218.97C640.98 1218.41 643.69 1216.41 645.35 1215.59C647.01 1214.78 648.16 1213.94 650.04 1214.09C651.91 1214.25 655.51 1216.12 656.6 1216.53" fill="none" stroke="#1515f0" stroke-width="1.55" stroke-linecap="round" stroke-linejoin="round"/>
<path d="M656.6 1216.53L656.85 1216.62L657.16 1216.74L657.53 1216.9L657.95 1217.06L658.41 1217.17L658.92 1217.19L659.48 1217.17L660.04 1217.2L660.55 1217.38L660.93 1217.76L661.13 1218.3L661.23 1218.9L661.36 1219.44L661.67 1219.88L662.18 1220.21L662.81 1220.46L663.4 1220.72L663.82 1221.06L664.05 1221.51L664.2 1222.04L664.38 1222.6L664.65 1223.1L665.03 1223.44L665.5 1223.6L666.04 1223.59L666.6 1223.5L667.15 1223.43L667.65 1223.49L668.07 1223.73L668.39 1224.12L668.63 1224.62L668.83 1225.14L669.06 1225.59L669.39 1225.92L669.83 1226.1L670.35 1226.17L670.89 1226.17L671.38 1226.16L671.79 1226.21L672.11 1226.37L672.46 1226.64L672.88 1226.95L673.36 1227.18L673.87 1227.28L674.38 1227.22L674.86 1227.08L675.3 1226.95L675.69 1226.86L676.03 1226.84L676.29 1226.84" fill="none" stroke="#ff1414" stroke-width="1.55" stroke-linecap="round" stroke-linejoin="round"/>
<path d="M648.27 1226.38C649.15 1225.81 651.87 1223.81 653.52 1223C655.18 1222.19 656.34 1221.34 658.21 1221.5C660.09 1221.66 663.68 1223.53 664.77 1223.94" fill="none" stroke="#1515f0" stroke-width="1.55" stroke-linecap="round" stroke-linejoin="round"/>
<path d="M664.77 1223.94L665.02 1224.04L665.33 1224.17L665.71 1224.29L666.15 1224.37L666.64 1224.39L667.17 1224.38L667.71 1224.43L668.21 1224.63L668.59 1225.01L668.84 1225.51L668.99 1226.03L669.2 1226.48L669.57 1226.83L670.11 1227.1L670.75 1227.34L671.3 1227.65L671.66 1228.06L671.83 1228.6L671.92 1229.21L672.07 1229.8L672.35 1230.28L672.78 1230.58L673.3 1230.68L673.86 1230.64L674.42 1230.56L674.94 1230.55L675.4 1230.69L675.78 1230.99L676.08 1231.44L676.33 1231.93L676.56 1232.4L676.84 1232.77L677.23 1233L677.72 1233.12L678.27 1233.16L678.8 1233.19L679.27 1233.27L679.63 1233.44L679.93 1233.7L680.2 1234.07L680.56 1234.43L681.02 1234.68L681.53 1234.77L682.05 1234.68L682.55 1234.51L683.02 1234.35L683.46 1234.25L683.86 1234.22L684.2 1234.23L684.46 1234.25" fill="none" stroke="#ff1414" stroke-width="1.55" stroke-linecap="round" stroke-linejoin="round"/>
<path d="M604.06 1162.25C604.53 1162.97 605.62 1165.38 606.88 1166.56C608.12 1167.75 609.94 1168.81 611.56 1169.38C613.19 1169.94 615.78 1169.84 616.62 1169.94" fill="none" stroke="#1515f0" stroke-width="1.55" stroke-linecap="round" stroke-linejoin="round"/>
<path d="M616.62 1169.94C617.12 1170.16 618.81 1171.41 619.62 1171.25C620.44 1171.09 621.09 1169.88 621.5 1169C621.91 1168.12 621.44 1166.69 622.06 1166C622.69 1165.31 624.03 1165.31 625.25 1164.88C626.47 1164.44 628.44 1164.12 629.38 1163.38C630.31 1162.62 630.38 1161.25 630.88 1160.38C631.38 1159.5 631.69 1158.75 632.38 1158.12C633.06 1157.5 634.56 1156.88 635 1156.62" fill="none" stroke="#ff1414" stroke-width="1.55" stroke-linecap="round" stroke-linejoin="round"/>
<path d="M635 1156.62C635.84 1156.25 638.19 1154.56 640.06 1154.38C641.94 1154.19 644.22 1154.81 646.25 1155.5C648.28 1156.19 651.25 1158 652.25 1158.5" fill="none" stroke="#1515f0" stroke-width="1.55" stroke-linecap="round" stroke-linejoin="round"/>
<path d="M630.31 1165.62C630.16 1166.41 630.31 1169 629.38 1170.31C628.44 1171.62 626.41 1172.72 624.69 1173.5C622.97 1174.28 620 1174.75 619.06 1175" fill="none" stroke="#1515f0" stroke-width="1.55" stroke-linecap="round" stroke-linejoin="round"/>
<path d="M612.24 1169.66C612.71 1170.38 613.8 1172.78 615.05 1173.97C616.3 1175.16 618.11 1176.22 619.74 1176.78C621.36 1177.34 623.96 1177.25 624.8 1177.34" fill="none" stroke="#1515f0" stroke-width="1.55" stroke-linecap="round" stroke-linejoin="round"/>
<path d="M624.8 1177.34C625.3 1177.56 626.99 1178.81 627.8 1178.66C628.61 1178.5 629.27 1177.28 629.67 1176.41C630.08 1175.53 629.61 1174.09 630.24 1173.41C630.86 1172.72 632.21 1172.72 633.42 1172.28C634.64 1171.84 636.61 1171.53 637.55 1170.78C638.49 1170.03 638.55 1168.66 639.05 1167.78C639.55 1166.91 639.86 1166.16 640.55 1165.53C641.24 1164.91 642.74 1164.28 643.17 1164.03" fill="none" stroke="#ff1414" stroke-width="1.55" stroke-linecap="round" stroke-linejoin="round"/>
<path d="M643.17 1164.03C644.02 1163.66 646.36 1161.97 648.24 1161.78C650.11 1161.59 652.39 1162.22 654.42 1162.91C656.46 1163.59 659.42 1165.41 660.42 1165.91" fill="none" stroke="#1515f0" stroke-width="1.55" stroke-linecap="round" stroke-linejoin="round"/>
<path d="M638.49 1173.03C638.33 1173.81 638.49 1176.41 637.55 1177.72C636.61 1179.03 634.58 1180.12 632.86 1180.91C631.14 1181.69 628.17 1182.16 627.24 1182.41" fill="none" stroke="#1515f0" stroke-width="1.55" stroke-linecap="round" stroke-linejoin="round"/>
<path d="M620.41 1177.06C620.88 1177.78 621.98 1180.19 623.23 1181.38C624.48 1182.56 626.29 1183.62 627.91 1184.19C629.54 1184.75 632.13 1184.66 632.98 1184.75" fill="none" stroke="#1515f0" stroke-width="1.55" stroke-linecap="round" stroke-linejoin="round"/>
<path d="M632.98 1184.75C633.48 1184.97 635.16 1186.22 635.98 1186.06C636.79 1185.91 637.44 1184.69 637.85 1183.81C638.26 1182.94 637.79 1181.5 638.41 1180.81C639.04 1180.12 640.38 1180.12 641.6 1179.69C642.82 1179.25 644.79 1178.94 645.73 1178.19C646.66 1177.44 646.73 1176.06 647.23 1175.19C647.73 1174.31 648.04 1173.56 648.73 1172.94C649.41 1172.31 650.91 1171.69 651.35 1171.44" fill="none" stroke="#ff1414" stroke-width="1.55" stroke-linecap="round" stroke-linejoin="round"/>
<path d="M651.35 1171.44C652.19 1171.06 654.54 1169.38 656.41 1169.19C658.29 1169 660.57 1169.62 662.6 1170.31C664.63 1171 667.6 1172.81 668.6 1173.31" fill="none" stroke="#1515f0" stroke-width="1.55" stroke-linecap="round" stroke-linejoin="round"/>
<path d="M646.66 1180.44C646.51 1181.22 646.66 1183.81 645.73 1185.12C644.79 1186.44 642.76 1187.53 641.04 1188.31C639.32 1189.09 636.35 1189.56 635.41 1189.81" fill="none" stroke="#1515f0" stroke-width="1.55" stroke-linecap="round" stroke-linejoin="round"/>
<path d="M628.59 1184.47C629.06 1185.19 630.15 1187.59 631.4 1188.78C632.65 1189.97 634.46 1191.03 636.09 1191.59C637.71 1192.16 640.31 1192.06 641.15 1192.16" fill="none" stroke="#1515f0" stroke-width="1.55" stroke-linecap="round" stroke-linejoin="round"/>
<path d="M641.15 1192.16C641.65 1192.38 643.34 1193.62 644.15 1193.47C644.96 1193.31 645.62 1192.09 646.02 1191.22C646.43 1190.34 645.96 1188.91 646.59 1188.22C647.21 1187.53 648.56 1187.53 649.77 1187.09C650.99 1186.66 652.96 1186.34 653.9 1185.59C654.84 1184.84 654.9 1183.47 655.4 1182.59C655.9 1181.72 656.21 1180.97 656.9 1180.34C657.59 1179.72 659.09 1179.09 659.52 1178.84" fill="none" stroke="#ff1414" stroke-width="1.55" stroke-linecap="round" stroke-linejoin="round"/>
<path d="M659.52 1178.84C660.37 1178.47 662.71 1176.78 664.59 1176.59C666.46 1176.41 668.74 1177.03 670.77 1177.72C672.81 1178.41 675.77 1180.22 676.77 1180.72" fill="none" stroke="#1515f0" stroke-width="1.55" stroke-linecap="round" stroke-linejoin="round"/>
<path d="M654.84 1187.84C654.68 1188.62 654.84 1191.22 653.9 1192.53C652.96 1193.84 650.93 1194.94 649.21 1195.72C647.49 1196.5 644.52 1196.97 643.59 1197.22" fill="none" stroke="#1515f0" stroke-width="1.55" stroke-linecap="round" stroke-linejoin="round"/>
<path d="M636.76 1191.88C637.23 1192.59 638.33 1195 639.58 1196.19C640.83 1197.38 642.64 1198.44 644.26 1199C645.89 1199.56 648.48 1199.47 649.33 1199.56" fill="none" stroke="#1515f0" stroke-width="1.55" stroke-linecap="round" stroke-linejoin="round"/>
<path d="M649.33 1199.56C649.83 1199.78 651.51 1201.03 652.33 1200.88C653.14 1200.72 653.79 1199.5 654.2 1198.62C654.61 1197.75 654.14 1196.31 654.76 1195.62C655.39 1194.94 656.73 1194.94 657.95 1194.5C659.17 1194.06 661.14 1193.75 662.08 1193C663.01 1192.25 663.08 1190.88 663.58 1190C664.08 1189.12 664.39 1188.38 665.08 1187.75C665.76 1187.12 667.26 1186.5 667.7 1186.25" fill="none" stroke="#ff1414" stroke-width="1.55" stroke-linecap="round" stroke-linejoin="round"/>
<path d="M667.7 1186.25C668.54 1185.88 670.89 1184.19 672.76 1184C674.64 1183.81 676.92 1184.44 678.95 1185.12C680.98 1185.81 683.95 1187.62 684.95 1188.12" fill="none" stroke="#1515f0" stroke-width="1.55" stroke-linecap="round" stroke-linejoin="round"/>
<path d="M663.01 1195.25C662.86 1196.03 663.01 1198.62 662.08 1199.94C661.14 1201.25 659.11 1202.34 657.39 1203.12C655.67 1203.91 652.7 1204.38 651.76 1204.62" fill="none" stroke="#1515f0" stroke-width="1.55" stroke-linecap="round" stroke-linejoin="round"/>
<path d="M644.94 1199.28C645.41 1200 646.5 1202.41 647.75 1203.59C649 1204.78 650.81 1205.84 652.44 1206.41C654.06 1206.97 656.66 1206.88 657.5 1206.97" fill="none" stroke="#1515f0" stroke-width="1.55" stroke-linecap="round" stroke-linejoin="round"/>
<path d="M657.5 1206.97C658 1207.19 659.69 1208.44 660.5 1208.28C661.31 1208.12 661.97 1206.91 662.38 1206.03C662.78 1205.16 662.31 1203.72 662.94 1203.03C663.56 1202.34 664.91 1202.34 666.12 1201.91C667.34 1201.47 669.31 1201.16 670.25 1200.41C671.19 1199.66 671.25 1198.28 671.75 1197.41C672.25 1196.53 672.56 1195.78 673.25 1195.16C673.94 1194.53 675.44 1193.91 675.88 1193.66" fill="none" stroke="#ff1414" stroke-width="1.55" stroke-linecap="round" stroke-linejoin="round"/>
<path d="M675.88 1193.66C676.72 1193.28 679.06 1191.59 680.94 1191.41C682.81 1191.22 685.09 1191.84 687.12 1192.53C689.16 1193.22 692.12 1195.03 693.12 1195.53" fill="none" stroke="#1515f0" stroke-width="1.55" stroke-linecap="round" stroke-linejoin="round"/>
<path d="M671.19 1202.66C671.03 1203.44 671.19 1206.03 670.25 1207.34C669.31 1208.66 667.28 1209.75 665.56 1210.53C663.84 1211.31 660.88 1211.78 659.94 1212.03" fill="none" stroke="#1515f0" stroke-width="1.55" stroke-linecap="round" stroke-linejoin="round"/>
<path d="M653.11 1206.69C653.58 1207.41 654.67 1209.81 655.92 1211C657.17 1212.19 658.99 1213.25 660.61 1213.81C662.24 1214.38 664.83 1214.28 665.67 1214.38" fill="none" stroke="#1515f0" stroke-width="1.55" stroke-linecap="round" stroke-linejoin="round"/>
<path d="M665.67 1214.38C666.17 1214.59 667.86 1215.84 668.67 1215.69C669.49 1215.53 670.14 1214.31 670.55 1213.44C670.96 1212.56 670.49 1211.12 671.11 1210.44C671.74 1209.75 673.08 1209.75 674.3 1209.31C675.52 1208.88 677.49 1208.56 678.42 1207.81C679.36 1207.06 679.42 1205.69 679.92 1204.81C680.42 1203.94 680.74 1203.19 681.42 1202.56C682.11 1201.94 683.61 1201.31 684.05 1201.06" fill="none" stroke="#ff1414" stroke-width="1.55" stroke-linecap="round" stroke-linejoin="round"/>
<path d="M684.05 1201.06C684.89 1200.69 687.24 1199 689.11 1198.81C690.99 1198.62 693.27 1199.25 695.3 1199.94C697.33 1200.62 700.3 1202.44 701.3 1202.94" fill="none" stroke="#1515f0" stroke-width="1.55" stroke-linecap="round" stroke-linejoin="round"/>
<path d="M679.36 1210.06C679.21 1210.84 679.36 1213.44 678.42 1214.75C677.49 1216.06 675.46 1217.16 673.74 1217.94C672.02 1218.72 669.05 1219.19 668.11 1219.44" fill="none" stroke="#1515f0" stroke-width="1.55" stroke-linecap="round" stroke-linejoin="round"/>
<path d="M661.29 1214.09C661.76 1214.81 662.85 1217.22 664.1 1218.41C665.35 1219.59 667.16 1220.66 668.79 1221.22C670.41 1221.78 673.01 1221.69 673.85 1221.78" fill="none" stroke="#1515f0" stroke-width="1.55" stroke-linecap="round" stroke-linejoin="round"/>
<path d="M673.85 1221.78C674.35 1222 676.04 1223.25 676.85 1223.09C677.66 1222.94 678.32 1221.72 678.73 1220.84C679.13 1219.97 678.66 1218.53 679.29 1217.84C679.91 1217.16 681.26 1217.16 682.48 1216.72C683.69 1216.28 685.66 1215.97 686.6 1215.22C687.54 1214.47 687.6 1213.09 688.1 1212.22C688.6 1211.34 688.91 1210.59 689.6 1209.97C690.29 1209.34 691.79 1208.72 692.23 1208.47" fill="none" stroke="#ff1414" stroke-width="1.55" stroke-linecap="round" stroke-linejoin="round"/>
<path d="M692.23 1208.47C693.07 1208.09 695.41 1206.41 697.29 1206.22C699.16 1206.03 701.44 1206.66 703.48 1207.34C705.51 1208.03 708.48 1209.84 709.48 1210.34" fill="none" stroke="#1515f0" stroke-width="1.55" stroke-linecap="round" stroke-linejoin="round"/>
<path d="M687.54 1217.47C687.38 1218.25 687.54 1220.84 686.6 1222.16C685.66 1223.47 683.63 1224.56 681.91 1225.34C680.19 1226.12 677.23 1226.59 676.29 1226.84" fill="none" stroke="#1515f0" stroke-width="1.55" stroke-linecap="round" stroke-linejoin="round"/>
<path d="M669.46 1221.5C669.93 1222.22 671.02 1224.62 672.27 1225.81C673.52 1227 675.34 1228.06 676.96 1228.62C678.59 1229.19 681.18 1229.09 682.02 1229.19" fill="none" stroke="#1515f0" stroke-width="1.55" stroke-linecap="round" stroke-linejoin="round"/>
<path d="M682.02 1229.19C682.52 1229.41 684.21 1230.66 685.02 1230.5C685.84 1230.34 686.49 1229.12 686.9 1228.25C687.31 1227.38 686.84 1225.94 687.46 1225.25C688.09 1224.56 689.43 1224.56 690.65 1224.12C691.87 1223.69 693.84 1223.38 694.77 1222.62C695.71 1221.88 695.77 1220.5 696.27 1219.62C696.77 1218.75 697.09 1218 697.77 1217.38C698.46 1216.75 699.96 1216.12 700.4 1215.88" fill="none" stroke="#ff1414" stroke-width="1.55" stroke-linecap="round" stroke-linejoin="round"/>
<path d="M700.4 1215.88C701.24 1215.5 703.59 1213.81 705.46 1213.62C707.34 1213.44 709.62 1214.06 711.65 1214.75C713.68 1215.44 716.65 1217.25 717.65 1217.75" fill="none" stroke="#1515f0" stroke-width="1.55" stroke-linecap="round" stroke-linejoin="round"/>
<path d="M695.71 1224.88C695.56 1225.66 695.71 1228.25 694.77 1229.56C693.84 1230.88 691.81 1231.97 690.09 1232.75C688.37 1233.53 685.4 1234 684.46 1234.25" fill="none" stroke="#1515f0" stroke-width="1.55" stroke-linecap="round" stroke-linejoin="round"/>
</svg>
</body></html>
